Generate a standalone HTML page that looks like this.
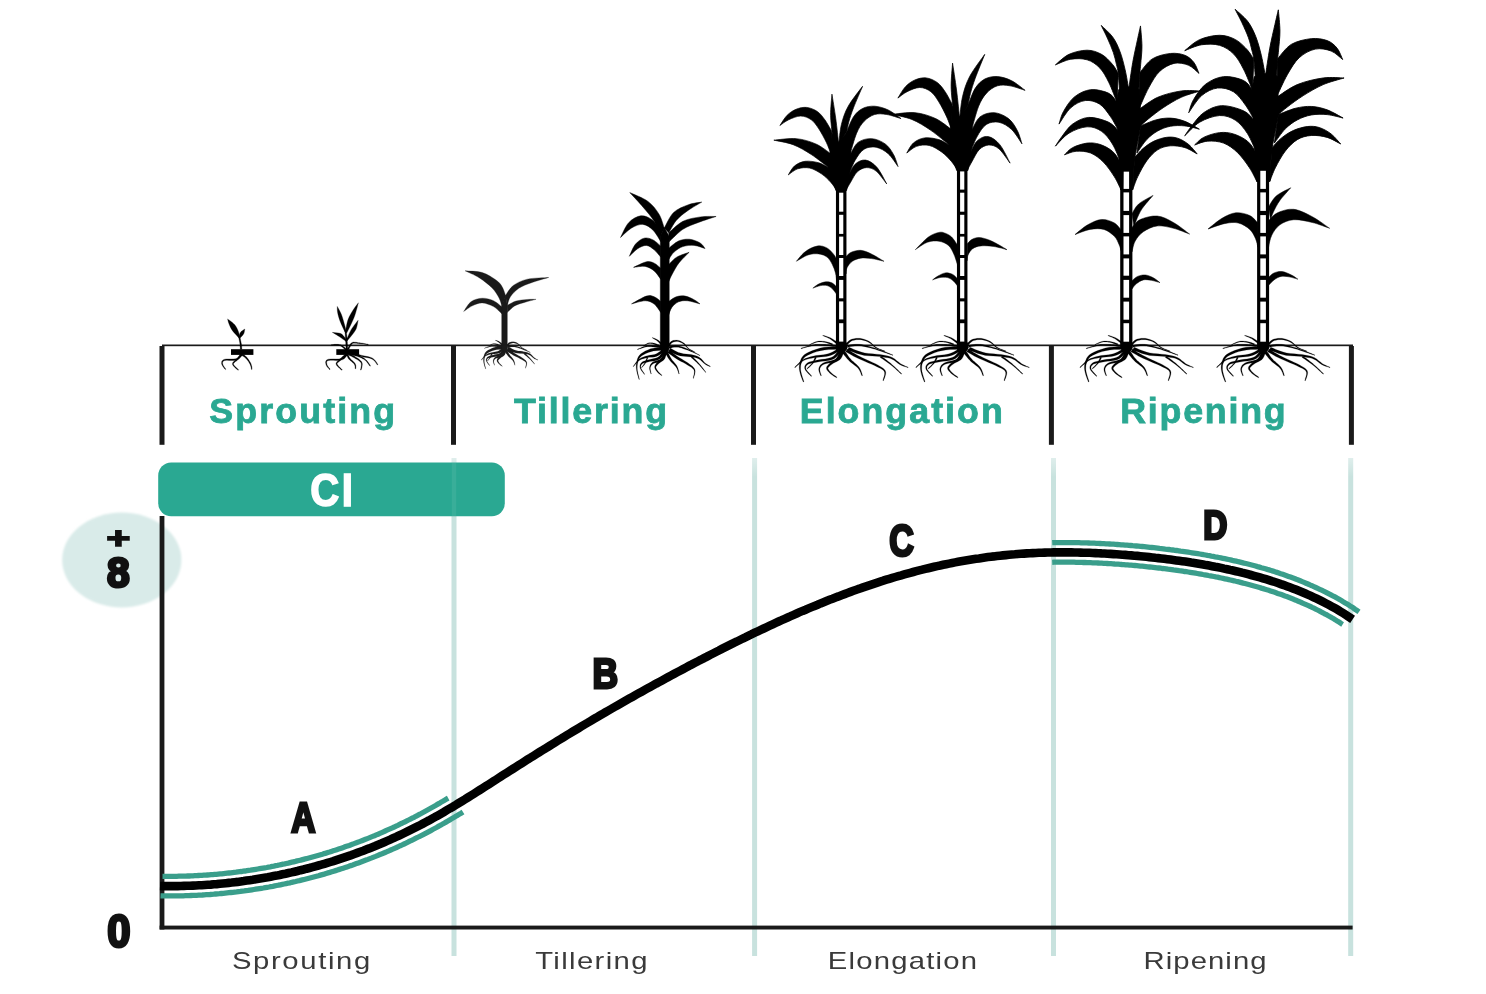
<!DOCTYPE html>
<html lang="en"><head><meta charset="utf-8"><title>Sugarcane growth stages</title>
<style>html,body{margin:0;padding:0;background:#fff;overflow:hidden}svg{display:block;will-change:transform}text{font-family:'Liberation Sans', sans-serif}</style>
</head><body>
<svg width="1486" height="994" viewBox="0 0 1486 994">
<defs>
<linearGradient id="vfade" x1="0" y1="0" x2="0" y2="1"><stop offset="0" stop-color="#fff" stop-opacity="0.45"/><stop offset="1" stop-color="#fff" stop-opacity="0"/></linearGradient>
<filter id="soft" x="-200%" width="500%" y="-5%" height="110%"><feGaussianBlur stdDeviation="0.7 0"/></filter>
<filter id="soft2" x="-10%" width="120%" y="-10%" height="120%"><feGaussianBlur stdDeviation="0.8"/></filter>
</defs>
<rect width="1486" height="994" fill="#fff"/>
<g id="chart">
<ellipse cx="121.8" cy="560" rx="59.6" ry="47.4" fill="#d9ebe9" filter="url(#soft2)"/>
<rect x="451.5" y="458" width="5" height="498" fill="#c8e2de" filter="url(#soft)"/>
<rect x="448.0" y="457" width="12" height="20" fill="url(#vfade)"/>
<rect x="752.1" y="458" width="5" height="498" fill="#c8e2de" filter="url(#soft)"/>
<rect x="748.6" y="457" width="12" height="20" fill="url(#vfade)"/>
<rect x="1051.0" y="458" width="5" height="498" fill="#c8e2de" filter="url(#soft)"/>
<rect x="1047.5" y="457" width="12" height="20" fill="url(#vfade)"/>
<rect x="1348.2" y="458" width="5" height="498" fill="#c8e2de" filter="url(#soft)"/>
<rect x="1344.7" y="457" width="12" height="20" fill="url(#vfade)"/>
<rect x="158.2" y="462.5" width="346.6" height="53.7" rx="13" ry="13" fill="#2aa892"/>
<rect x="451.8" y="462.5" width="4.4" height="53.7" fill="#fff" opacity="0.07"/>
<text transform="translate(310.19 505.54) scale(0.8756 1)" font-size="45.92" font-weight="bold" fill="#fff" letter-spacing="3.00" stroke="#fff" stroke-width="1.6" stroke-linejoin="miter">CI</text>
<rect x="159.6" y="516" width="4.8" height="413.5" fill="#1a1a1a"/>
<rect x="159.6" y="925.6" width="1193" height="3.9" fill="#1a1a1a"/>
<g fill="none" stroke="#3a9e8b" stroke-width="5.3">
<path d="M162.5 876.3 L164.3 876.3 L166.1 876.3 L167.9 876.3 L169.7 876.3 L171.5 876.3 L173.3 876.3 L175.1 876.3 L176.9 876.3 L178.7 876.2 L180.5 876.2 L182.2 876.2 L184.0 876.1 L185.8 876.1 L187.6 876.0 L189.4 876.0 L191.2 875.9 L193.0 875.8 L194.8 875.7 L196.6 875.6 L198.4 875.5 L200.2 875.4 L202.0 875.3 L203.8 875.2 L205.6 875.1 L207.4 875.0 L209.2 874.9 L211.0 874.7 L212.8 874.6 L214.6 874.4 L216.4 874.3 L218.2 874.1 L220.0 873.9 L221.8 873.8 L223.6 873.6 L225.4 873.4 L227.2 873.2 L229.0 873.0 L230.8 872.8 L232.6 872.6 L234.3 872.4 L236.1 872.2 L237.9 871.9 L239.7 871.7 L241.5 871.5 L243.3 871.2 L245.1 871.0 L246.9 870.7 L248.7 870.4 L250.5 870.2 L252.3 869.9 L254.1 869.6 L255.9 869.3 L257.7 869.0 L259.5 868.7 L261.3 868.4 L263.1 868.1 L264.9 867.8 L266.7 867.5 L268.5 867.1 L270.3 866.8 L272.1 866.4 L273.9 866.1 L275.7 865.7 L277.5 865.4 L279.3 865.0 L281.1 864.6 L282.9 864.2 L284.7 863.9 L286.5 863.5 L288.3 863.1 L290.1 862.6 L291.9 862.2 L293.6 861.8 L295.4 861.4 L297.2 860.9 L299.0 860.5 L300.8 860.1 L302.6 859.6 L304.4 859.1 L306.2 858.7 L308.0 858.2 L309.8 857.7 L311.6 857.2 L313.4 856.7 L315.2 856.2 L317.0 855.7 L318.8 855.2 L320.6 854.7 L322.4 854.2 L324.2 853.6 L326.0 853.1 L327.8 852.5 L329.6 852.0 L331.4 851.4 L333.2 850.8 L335.0 850.3 L336.8 849.7 L338.6 849.1 L340.4 848.5 L342.1 847.9 L343.9 847.3 L345.7 846.6 L347.5 846.0 L349.3 845.4 L351.1 844.7 L352.9 844.1 L354.7 843.4 L356.5 842.7 L358.3 842.1 L360.1 841.4 L361.9 840.7 L363.7 840.0 L365.5 839.3 L367.3 838.6 L369.1 837.9 L370.9 837.1 L372.7 836.4 L374.5 835.7 L376.3 834.9 L378.1 834.2 L379.9 833.4 L381.7 832.6 L383.4 831.8 L385.2 831.0 L387.0 830.2 L388.8 829.4 L390.6 828.6 L392.4 827.8 L394.2 827.0 L396.0 826.1 L397.8 825.3 L399.6 824.4 L401.4 823.5 L403.2 822.7 L405.0 821.8 L406.8 820.9 L408.6 820.0 L410.4 819.1 L412.2 818.2 L414.0 817.3 L415.8 816.3 L417.6 815.4 L419.4 814.4 L421.2 813.5 L423.0 812.5 L424.8 811.5 L426.6 810.5 L428.4 809.5 L430.2 808.5 L432.0 807.5 L433.8 806.5 L435.6 805.5 L437.4 804.4 L439.2 803.4 L441.0 802.3 L442.8 801.3 L444.6 800.2 L446.4 799.1 L448.2 798.1"/>
<path d="M160.5 895.8 L162.4 895.9 L164.3 895.9 L166.2 895.9 L168.1 895.9 L170.0 895.9 L171.9 895.9 L173.8 895.9 L175.7 895.9 L177.6 895.9 L179.5 895.8 L181.4 895.8 L183.4 895.8 L185.3 895.7 L187.2 895.6 L189.1 895.6 L191.0 895.5 L192.9 895.4 L194.8 895.4 L196.7 895.3 L198.6 895.2 L200.5 895.1 L202.4 895.0 L204.3 894.8 L206.2 894.7 L208.1 894.6 L210.0 894.5 L211.9 894.3 L213.8 894.2 L215.7 894.0 L217.6 893.8 L219.5 893.7 L221.4 893.5 L223.3 893.3 L225.2 893.1 L227.1 892.9 L229.0 892.7 L230.9 892.5 L232.8 892.3 L234.7 892.1 L236.6 891.9 L238.5 891.6 L240.4 891.4 L242.3 891.1 L244.2 890.9 L246.1 890.6 L248.1 890.4 L250.0 890.1 L251.9 889.8 L253.8 889.5 L255.7 889.2 L257.6 888.9 L259.5 888.6 L261.4 888.3 L263.3 888.0 L265.2 887.6 L267.1 887.3 L269.0 887.0 L270.9 886.6 L272.8 886.3 L274.7 885.9 L276.6 885.5 L278.5 885.2 L280.4 884.8 L282.3 884.4 L284.2 884.0 L286.1 883.6 L288.0 883.2 L289.9 882.8 L291.8 882.3 L293.7 881.9 L295.6 881.5 L297.5 881.0 L299.4 880.6 L301.3 880.1 L303.2 879.7 L305.1 879.2 L307.0 878.7 L308.9 878.2 L310.8 877.7 L312.7 877.2 L314.6 876.7 L316.5 876.2 L318.5 875.7 L320.4 875.1 L322.3 874.6 L324.2 874.1 L326.1 873.5 L328.0 872.9 L329.9 872.4 L331.8 871.8 L333.7 871.2 L335.6 870.6 L337.5 870.0 L339.4 869.4 L341.3 868.8 L343.2 868.2 L345.1 867.6 L347.0 866.9 L348.9 866.3 L350.8 865.6 L352.7 865.0 L354.6 864.3 L356.5 863.6 L358.4 862.9 L360.3 862.2 L362.2 861.5 L364.1 860.8 L366.0 860.1 L367.9 859.4 L369.8 858.6 L371.8 857.9 L373.7 857.1 L375.6 856.4 L377.5 855.6 L379.4 854.8 L381.3 854.1 L383.2 853.3 L385.1 852.5 L387.0 851.7 L388.9 850.8 L390.8 850.0 L392.7 849.2 L394.6 848.3 L396.5 847.5 L398.4 846.6 L400.3 845.7 L402.2 844.9 L404.1 844.0 L406.0 843.1 L407.9 842.2 L409.8 841.2 L411.7 840.3 L413.6 839.4 L415.5 838.4 L417.4 837.5 L419.3 836.5 L421.2 835.6 L423.2 834.6 L425.1 833.6 L427.0 832.6 L428.9 831.6 L430.8 830.6 L432.7 829.5 L434.6 828.5 L436.5 827.5 L438.4 826.4 L440.3 825.3 L442.2 824.3 L444.1 823.2 L446.0 822.1 L447.9 821.0 L449.8 819.9 L451.6 818.8 L453.5 817.7 L455.4 816.6 L457.3 815.4 L459.2 814.3 L461.1 813.2 L463.0 812.0"/>
<path d="M1052.2 542.7 L1054.1 542.6 L1056.0 542.6 L1058.0 542.6 L1059.9 542.6 L1061.8 542.6 L1063.7 542.6 L1065.7 542.6 L1067.6 542.6 L1069.5 542.6 L1071.4 542.6 L1073.3 542.6 L1075.2 542.7 L1077.2 542.7 L1079.1 542.7 L1081.0 542.8 L1082.9 542.8 L1084.8 542.9 L1086.8 542.9 L1088.7 543.0 L1090.6 543.1 L1092.5 543.2 L1094.4 543.2 L1096.3 543.3 L1098.3 543.4 L1100.2 543.5 L1102.1 543.6 L1104.0 543.7 L1105.9 543.8 L1107.8 543.9 L1109.7 544.0 L1111.7 544.1 L1113.6 544.2 L1115.5 544.4 L1117.4 544.5 L1119.3 544.6 L1121.2 544.8 L1123.1 544.9 L1125.1 545.1 L1127.0 545.2 L1128.9 545.4 L1130.8 545.5 L1132.7 545.7 L1134.6 545.8 L1136.5 546.0 L1138.5 546.2 L1140.4 546.4 L1142.3 546.5 L1144.2 546.7 L1146.1 546.9 L1148.0 547.1 L1149.9 547.3 L1151.8 547.5 L1153.8 547.7 L1155.7 547.9 L1157.6 548.1 L1159.5 548.4 L1161.4 548.6 L1163.3 548.8 L1165.3 549.1 L1167.2 549.3 L1169.1 549.5 L1171.0 549.8 L1172.9 550.0 L1174.8 550.3 L1176.7 550.5 L1178.7 550.8 L1180.6 551.1 L1182.5 551.3 L1184.4 551.6 L1186.3 551.9 L1188.2 552.2 L1190.2 552.5 L1192.1 552.8 L1194.0 553.1 L1195.9 553.4 L1197.8 553.7 L1199.8 554.0 L1201.7 554.3 L1203.6 554.7 L1205.5 555.0 L1207.4 555.4 L1209.4 555.7 L1211.3 556.1 L1213.2 556.4 L1215.1 556.8 L1217.0 557.1 L1219.0 557.5 L1220.9 557.9 L1222.8 558.3 L1224.7 558.7 L1226.7 559.1 L1228.6 559.5 L1230.5 559.9 L1232.4 560.4 L1234.4 560.8 L1236.3 561.2 L1238.2 561.7 L1240.2 562.1 L1242.1 562.6 L1244.0 563.1 L1245.9 563.5 L1247.9 564.0 L1249.8 564.5 L1251.7 565.0 L1253.7 565.5 L1255.6 566.0 L1257.5 566.6 L1259.5 567.1 L1261.4 567.7 L1263.3 568.2 L1265.3 568.8 L1267.2 569.4 L1269.1 569.9 L1271.1 570.5 L1273.0 571.1 L1275.0 571.8 L1276.9 572.4 L1278.8 573.0 L1280.8 573.7 L1282.7 574.3 L1284.7 575.0 L1286.6 575.7 L1288.5 576.4 L1290.5 577.1 L1292.4 577.8 L1294.4 578.5 L1296.3 579.3 L1298.3 580.0 L1300.2 580.8 L1302.2 581.6 L1304.1 582.4 L1306.0 583.2 L1308.0 584.0 L1309.9 584.9 L1311.9 585.7 L1313.8 586.6 L1315.8 587.5 L1317.7 588.4 L1319.7 589.3 L1321.6 590.2 L1323.6 591.2 L1325.6 592.1 L1327.5 593.1 L1329.5 594.1 L1331.4 595.1 L1333.4 596.2 L1335.4 597.2 L1337.3 598.3 L1339.3 599.4 L1341.3 600.5 L1343.2 601.7 L1345.2 602.9 L1347.2 604.1 L1349.1 605.3 L1351.1 606.6 L1353.1 607.8 L1355.0 609.2 L1357.0 610.5 L1359.0 611.9"/>
<path d="M1052.2 562.3 L1054.0 562.2 L1055.9 562.2 L1057.7 562.2 L1059.5 562.2 L1061.4 562.2 L1063.2 562.2 L1065.0 562.2 L1066.9 562.2 L1068.7 562.2 L1070.5 562.2 L1072.4 562.2 L1074.2 562.2 L1076.0 562.3 L1077.9 562.3 L1079.7 562.4 L1081.6 562.4 L1083.4 562.5 L1085.2 562.5 L1087.1 562.6 L1088.9 562.6 L1090.7 562.7 L1092.6 562.8 L1094.4 562.8 L1096.3 562.9 L1098.1 563.0 L1099.9 563.1 L1101.8 563.2 L1103.6 563.3 L1105.5 563.4 L1107.3 563.5 L1109.1 563.6 L1111.0 563.7 L1112.8 563.8 L1114.7 564.0 L1116.5 564.1 L1118.3 564.2 L1120.2 564.3 L1122.0 564.5 L1123.9 564.6 L1125.7 564.8 L1127.6 564.9 L1129.4 565.1 L1131.2 565.2 L1133.1 565.4 L1134.9 565.5 L1136.8 565.7 L1138.6 565.9 L1140.4 566.1 L1142.3 566.2 L1144.1 566.4 L1146.0 566.6 L1147.8 566.8 L1149.6 567.0 L1151.5 567.2 L1153.3 567.4 L1155.2 567.6 L1157.0 567.8 L1158.8 568.0 L1160.7 568.2 L1162.5 568.5 L1164.4 568.7 L1166.2 568.9 L1168.0 569.2 L1169.9 569.4 L1171.7 569.6 L1173.6 569.9 L1175.4 570.1 L1177.2 570.4 L1179.1 570.7 L1180.9 570.9 L1182.8 571.2 L1184.6 571.5 L1186.4 571.7 L1188.3 572.0 L1190.1 572.3 L1191.9 572.6 L1193.8 572.9 L1195.6 573.2 L1197.4 573.5 L1199.3 573.8 L1201.1 574.1 L1203.0 574.5 L1204.8 574.8 L1206.6 575.1 L1208.5 575.5 L1210.3 575.8 L1212.1 576.2 L1214.0 576.5 L1215.8 576.9 L1217.6 577.2 L1219.4 577.6 L1221.3 578.0 L1223.1 578.4 L1224.9 578.8 L1226.8 579.2 L1228.6 579.6 L1230.4 580.0 L1232.2 580.4 L1234.1 580.8 L1235.9 581.3 L1237.7 581.7 L1239.6 582.1 L1241.4 582.6 L1243.2 583.1 L1245.0 583.5 L1246.8 584.0 L1248.7 584.5 L1250.5 585.0 L1252.3 585.5 L1254.1 586.0 L1256.0 586.5 L1257.8 587.0 L1259.6 587.5 L1261.4 588.1 L1263.2 588.6 L1265.1 589.2 L1266.9 589.8 L1268.7 590.3 L1270.5 590.9 L1272.3 591.5 L1274.1 592.1 L1276.0 592.7 L1277.8 593.4 L1279.6 594.0 L1281.4 594.6 L1283.2 595.3 L1285.0 596.0 L1286.8 596.6 L1288.6 597.3 L1290.5 598.0 L1292.3 598.7 L1294.1 599.5 L1295.9 600.2 L1297.7 601.0 L1299.5 601.7 L1301.3 602.5 L1303.1 603.3 L1304.9 604.1 L1306.7 604.9 L1308.5 605.7 L1310.3 606.5 L1312.1 607.4 L1313.9 608.2 L1315.7 609.1 L1317.5 610.0 L1319.3 610.9 L1321.1 611.9 L1322.9 612.8 L1324.7 613.8 L1326.5 614.7 L1328.3 615.7 L1330.1 616.7 L1331.9 617.8 L1333.7 618.8 L1335.5 619.9 L1337.2 621.0 L1339.0 622.1 L1340.8 623.3 L1342.6 624.4"/>
</g>
<path d="M160.0 886.0 L163.0 886.1 L166.0 886.1 L169.0 886.1 L172.0 886.1 L174.9 886.1 L177.9 886.1 L180.9 886.0 L183.9 885.9 L186.9 885.8 L189.9 885.7 L192.9 885.6 L195.9 885.5 L198.9 885.3 L201.8 885.2 L204.8 885.0 L207.8 884.8 L210.8 884.6 L213.8 884.3 L216.8 884.1 L219.8 883.8 L222.8 883.5 L225.8 883.2 L228.7 882.9 L231.7 882.6 L234.7 882.2 L237.7 881.9 L240.7 881.5 L243.7 881.1 L246.7 880.6 L249.7 880.2 L252.7 879.8 L255.6 879.3 L258.6 878.8 L261.6 878.3 L264.6 877.8 L267.6 877.3 L270.6 876.7 L273.6 876.1 L276.6 875.6 L279.6 875.0 L282.5 874.3 L285.5 873.7 L288.5 873.0 L291.5 872.4 L294.5 871.7 L297.5 871.0 L300.5 870.2 L303.5 869.5 L306.5 868.7 L309.4 868.0 L312.4 867.2 L315.4 866.3 L318.4 865.5 L321.4 864.7 L324.4 863.8 L327.4 862.9 L330.4 862.0 L333.4 861.1 L336.3 860.1 L339.3 859.1 L342.3 858.1 L345.3 857.1 L348.3 856.1 L351.3 855.1 L354.3 854.0 L357.3 852.9 L360.3 851.8 L363.3 850.7 L366.2 849.5 L369.2 848.4 L372.2 847.2 L375.2 846.0 L378.2 844.7 L381.2 843.5 L384.2 842.2 L387.2 840.9 L390.2 839.6 L393.1 838.2 L396.1 836.9 L399.1 835.5 L402.1 834.1 L405.1 832.7 L408.1 831.2 L411.1 829.7 L414.1 828.2 L417.1 826.7 L420.0 825.2 L423.0 823.6 L426.0 822.0 L429.0 820.4 L432.0 818.7 L435.0 817.1 L438.0 815.4 L441.0 813.7 L444.0 812.0 L446.9 810.2 L449.9 808.4 L452.9 806.7 L455.9 804.9 L458.9 803.0 L461.9 801.2 L464.9 799.4 L467.9 797.5 L470.9 795.6 L473.8 793.8 L476.8 791.9 L479.8 790.0 L482.8 788.1 L485.8 786.2 L488.8 784.3 L491.8 782.4 L494.8 780.5 L497.8 778.5 L500.7 776.6 L503.7 774.7 L506.7 772.8 L509.7 770.9 L512.7 769.0 L515.7 767.1 L518.7 765.2 L521.7 763.3 L524.7 761.4 L527.6 759.5 L530.6 757.7 L533.6 755.8 L536.6 753.9 L539.6 752.0 L542.6 750.2 L545.6 748.3 L548.6 746.5 L551.6 744.6 L554.5 742.8 L557.5 740.9 L560.5 739.1 L563.5 737.3 L566.5 735.4 L569.5 733.6 L572.5 731.8 L575.5 730.0 L578.5 728.2 L581.4 726.4 L584.4 724.6 L587.4 722.9 L590.4 721.1 L593.4 719.3 L596.4 717.6 L599.4 715.8 L602.4 714.1 L605.4 712.3 L608.3 710.6 L611.3 708.9 L614.3 707.1 L617.3 705.4 L620.3 703.7 L623.3 702.0 L626.3 700.3 L629.3 698.6 L632.3 696.9 L635.2 695.2 L638.2 693.6 L641.2 691.9 L644.2 690.2 L647.2 688.6 L650.2 686.9 L653.2 685.3 L656.2 683.6 L659.2 682.0 L662.1 680.4 L665.1 678.7 L668.1 677.1 L671.1 675.5 L674.1 673.9 L677.1 672.3 L680.1 670.7 L683.1 669.1 L686.1 667.5 L689.0 665.9 L692.0 664.4 L695.0 662.8 L698.0 661.2 L701.0 659.7 L704.0 658.1 L707.0 656.6 L710.0 655.0 L713.0 653.5 L715.9 652.0 L718.9 650.5 L721.9 648.9 L724.9 647.4 L727.9 645.9 L730.9 644.4 L733.9 642.9 L736.9 641.5 L739.9 640.0 L742.8 638.5 L745.8 637.1 L748.8 635.6 L751.8 634.2 L754.8 632.7 L757.8 631.3 L760.8 629.9 L763.8 628.5 L766.8 627.1 L769.8 625.7 L772.7 624.3 L775.7 622.9 L778.7 621.5 L781.7 620.2 L784.7 618.8 L787.7 617.5 L790.7 616.2 L793.7 614.8 L796.7 613.5 L799.6 612.2 L802.6 610.9 L805.6 609.7 L808.6 608.4 L811.6 607.1 L814.6 605.9 L817.6 604.7 L820.6 603.4 L823.6 602.2 L826.5 601.0 L829.5 599.8 L832.5 598.7 L835.5 597.5 L838.5 596.4 L841.5 595.2 L844.5 594.1 L847.5 593.0 L850.5 591.9 L853.4 590.8 L856.4 589.7 L859.4 588.7 L862.4 587.6 L865.4 586.6 L868.4 585.6 L871.4 584.6 L874.4 583.6 L877.4 582.6 L880.3 581.6 L883.3 580.7 L886.3 579.7 L889.3 578.8 L892.3 577.9 L895.3 577.0 L898.3 576.1 L901.3 575.3 L904.3 574.4 L907.2 573.6 L910.2 572.8 L913.2 572.0 L916.2 571.2 L919.2 570.4 L922.2 569.7 L925.2 568.9 L928.2 568.2 L931.2 567.5 L934.1 566.8 L937.1 566.1 L940.1 565.5 L943.1 564.8 L946.1 564.2 L949.1 563.6 L952.1 563.0 L955.1 562.4 L958.1 561.8 L961.0 561.3 L964.0 560.8 L967.0 560.3 L970.0 559.8 L973.0 559.3 L976.0 558.8 L979.0 558.4 L982.0 557.9 L985.0 557.5 L987.9 557.1 L990.9 556.7 L993.9 556.4 L996.9 556.0 L999.9 555.7 L1002.9 555.4 L1005.9 555.1 L1008.9 554.8 L1011.9 554.5 L1014.8 554.3 L1017.8 554.0 L1020.8 553.8 L1023.8 553.6 L1026.8 553.4 L1029.8 553.3 L1032.8 553.1 L1035.8 553.0 L1038.8 552.8 L1041.7 552.7 L1044.7 552.6 L1047.7 552.5 L1050.7 552.5 L1053.7 552.4 L1056.7 552.4 L1059.7 552.4 L1062.7 552.4 L1065.7 552.4 L1068.6 552.4 L1071.6 552.4 L1074.6 552.5 L1077.6 552.5 L1080.6 552.6 L1083.6 552.7 L1086.6 552.7 L1089.6 552.8 L1092.6 553.0 L1095.5 553.1 L1098.5 553.2 L1101.5 553.4 L1104.5 553.5 L1107.5 553.7 L1110.5 553.9 L1113.5 554.1 L1116.5 554.3 L1119.5 554.5 L1122.4 554.7 L1125.4 554.9 L1128.4 555.2 L1131.4 555.4 L1134.4 555.7 L1137.4 555.9 L1140.4 556.2 L1143.4 556.5 L1146.4 556.8 L1149.3 557.1 L1152.3 557.4 L1155.3 557.8 L1158.3 558.1 L1161.3 558.4 L1164.3 558.8 L1167.3 559.2 L1170.3 559.6 L1173.3 560.0 L1176.3 560.4 L1179.2 560.8 L1182.2 561.2 L1185.2 561.6 L1188.2 562.1 L1191.2 562.6 L1194.2 563.0 L1197.2 563.5 L1200.2 564.0 L1203.2 564.5 L1206.1 565.1 L1209.1 565.6 L1212.1 566.2 L1215.1 566.8 L1218.1 567.3 L1221.1 567.9 L1224.1 568.6 L1227.1 569.2 L1230.1 569.9 L1233.0 570.5 L1236.0 571.2 L1239.0 571.9 L1242.0 572.7 L1245.0 573.4 L1248.0 574.2 L1251.0 575.0 L1254.0 575.8 L1257.0 576.6 L1259.9 577.4 L1262.9 578.3 L1265.9 579.2 L1268.9 580.1 L1271.9 581.1 L1274.9 582.0 L1277.9 583.0 L1280.9 584.1 L1283.9 585.1 L1286.8 586.2 L1289.8 587.3 L1292.8 588.4 L1295.8 589.6 L1298.8 590.8 L1301.8 592.0 L1304.8 593.3 L1307.8 594.6 L1310.8 595.9 L1313.7 597.3 L1316.7 598.7 L1319.7 600.2 L1322.7 601.7 L1325.7 603.2 L1328.7 604.8 L1331.7 606.4 L1334.7 608.1 L1337.7 609.8 L1340.6 611.6 L1343.6 613.4 L1346.6 615.3 L1349.6 617.3 L1352.6 619.3" fill="none" stroke="#000" stroke-width="8.6"/>
<text transform="translate(106.57 548.32) scale(1.4057 1)" font-size="29.02" font-weight="bold" fill="#111" stroke="#111" stroke-width="1.6" stroke-linejoin="miter">+</text>
<text transform="translate(107.08 587.07) scale(0.9528 1)" font-size="42.82" font-weight="bold" fill="#111" stroke="#111" stroke-width="3.0" stroke-linejoin="miter">8</text>
<text transform="translate(107.34 947.24) scale(0.9115 1)" font-size="45.92" font-weight="bold" fill="#111" stroke="#111" stroke-width="3.0" stroke-linejoin="miter">0</text>
<text transform="translate(291.23 831.69) scale(0.7981 1)" font-size="42.01" font-weight="bold" fill="#111" stroke="#111" stroke-width="3.0" stroke-linejoin="miter">A</text>
<text transform="translate(592.40 687.80) scale(0.8236 1)" font-size="43.04" font-weight="bold" fill="#111" stroke="#111" stroke-width="3.0" stroke-linejoin="miter">B</text>
<text transform="translate(889.14 555.66) scale(0.7798 1)" font-size="43.66" font-weight="bold" fill="#111" stroke="#111" stroke-width="3.0" stroke-linejoin="miter">C</text>
<text transform="translate(1203.13 539.00) scale(0.8199 1)" font-size="40.72" font-weight="bold" fill="#111" stroke="#111" stroke-width="3.0" stroke-linejoin="miter">D</text>
<text transform="translate(231.88 968.60) scale(1.2300 1)" font-size="23.8" font-weight="normal" fill="#3a3a3a" letter-spacing="1.34">Sprouting</text>
<text transform="translate(535.21 968.60) scale(1.2300 1)" font-size="23.8" font-weight="normal" fill="#3a3a3a" letter-spacing="1.11">Tillering</text>
<text transform="translate(827.66 968.60) scale(1.2300 1)" font-size="23.8" font-weight="normal" fill="#3a3a3a" letter-spacing="1.01">Elongation</text>
<text transform="translate(1143.56 968.60) scale(1.2300 1)" font-size="23.8" font-weight="normal" fill="#3a3a3a" letter-spacing="0.87">Ripening</text>
</g>
<g id="stages">
<rect x="162" y="344.5" width="1191" height="1.7" fill="#1a1a1a"/>
<rect x="159.5" y="346" width="5" height="98.8" fill="#1a1a1a"/>
<rect x="451.0" y="346" width="5" height="98.8" fill="#1a1a1a"/>
<rect x="751.0" y="346" width="5" height="98.8" fill="#1a1a1a"/>
<rect x="1048.9" y="346" width="5" height="98.8" fill="#1a1a1a"/>
<rect x="1348.9" y="346" width="5" height="98.8" fill="#1a1a1a"/>
<text transform="translate(209.21 423.10) scale(1.0400 1)" font-size="34.4" font-weight="bold" fill="#2aa892" letter-spacing="2.05" stroke="#2aa892" stroke-width="0.8" stroke-linejoin="miter">Sprouting</text>
<text transform="translate(514.04 423.10) scale(1.0400 1)" font-size="34.4" font-weight="bold" fill="#2aa892" letter-spacing="1.75" stroke="#2aa892" stroke-width="0.8" stroke-linejoin="miter">Tillering</text>
<text transform="translate(799.77 423.10) scale(1.0400 1)" font-size="34.4" font-weight="bold" fill="#2aa892" letter-spacing="1.95" stroke="#2aa892" stroke-width="0.8" stroke-linejoin="miter">Elongation</text>
<text transform="translate(1120.27 423.10) scale(1.0400 1)" font-size="34.4" font-weight="bold" fill="#2aa892" letter-spacing="1.71" stroke="#2aa892" stroke-width="0.8" stroke-linejoin="miter">Ripening</text>
</g>
<g id="plants" fill="#000" stroke="#000" stroke-width="2.2" stroke-linejoin="round">
<rect x="231" y="349.2" width="22.4" height="5.7" stroke="none"/><rect x="336.3" y="349.2" width="22.8" height="5.7" stroke="none"/>
<g transform="translate(200.00 290.00) scale(0.13459 0.13459)"><path d="M288.0 354.0C280.0 345.0 252.2 317.3 240.0 300.0C227.8 282.7 220.8 264.2 215.0 250.0C209.2 235.8 206.7 220.8 205.0 215.0C213.3 221.7 242.2 240.8 255.0 255.0C267.8 269.2 275.0 283.8 282.0 300.0C289.0 316.2 294.5 343.3 297.0 352.0Z"/><path d="M288.0 352.0C290.0 345.8 292.5 325.3 300.0 315.0C307.5 304.7 327.5 294.2 333.0 290.0C331.7 295.8 330.8 313.8 325.0 325.0C319.2 336.2 302.5 351.7 298.0 357.0Z"/><path d="M311 440L311 438L311 435L310 432L310 429L310 426L310 422L310 418L309 414L309 410L308 405L308 401L307 397L306 393L305 388L304 383L303 378L302 373L301 368L300 363L299 359L298 355L297 352L297 349L287 351L288 354L288 357L289 361L290 365L291 370L292 375L293 380L294 385L295 390L296 395L296 399L297 403L297 407L298 411L298 415L298 419L298 423L299 426L299 430L299 433L299 436L299 438L299 440Z"/><path d="M305 476L301 480L296 487L290 494L284 501L275 507L266 510L252 512L235 513L217 513L199 513L185 514L174 518L167 523L162 529L161 536L160 542L161 549L163 556L168 564L173 573L179 580L184 587L188 591L192 589L189 584L184 577L178 569L173 561L170 554L168 548L168 542L168 537L170 533L173 529L178 526L186 523L200 522L217 523L235 523L253 523L268 521L281 517L291 510L299 502L306 495L311 488L315 484Z"/><path d="M300 476L298 479L296 482L293 486L289 491L286 496L282 501L279 505L275 510L270 514L265 519L259 524L253 529L247 535L243 541L241 548L242 555L247 562L252 569L259 576L267 583L274 588L279 593L283 597L287 593L283 589L277 584L271 578L264 571L257 565L252 558L249 553L249 549L250 545L254 540L259 536L264 531L271 527L277 522L282 517L287 512L291 507L295 503L299 498L302 494L305 490L308 486L310 484Z"/><path d="M308 485L311 487L315 489L319 492L324 495L329 498L334 502L338 506L343 510L347 515L351 520L356 526L360 532L364 538L367 544L371 550L373 555L375 561L377 567L379 572L380 578L381 583L382 587L383 591L387 589L387 586L386 582L386 577L385 571L384 565L382 559L380 552L378 546L375 540L371 534L367 527L363 521L359 515L355 509L350 503L346 498L341 494L336 489L331 485L326 482L322 479L318 477L316 475Z"/><path d="M1078.0 314.0C1071.7 300.0 1049.3 254.8 1040.0 230.0C1030.7 205.2 1025.3 183.0 1022.0 165.0C1018.7 147.0 1020.3 129.2 1020.0 122.0C1025.0 131.7 1041.3 158.7 1050.0 180.0C1058.7 201.3 1065.7 228.0 1072.0 250.0C1078.3 272.0 1085.3 301.7 1088.0 312.0Z"/><path d="M1080.0 314.0C1083.3 298.3 1090.0 248.2 1100.0 220.0C1110.0 191.8 1127.2 165.8 1140.0 145.0C1152.8 124.2 1170.8 103.3 1177.0 95.0C1172.5 110.8 1160.3 160.8 1150.0 190.0C1139.7 219.2 1124.7 248.8 1115.0 270.0C1105.3 291.2 1095.8 309.2 1092.0 317.0Z"/><path d="M1086.0 374.0C1091.7 361.7 1108.5 320.7 1120.0 300.0C1131.5 279.3 1145.8 262.5 1155.0 250.0C1164.2 237.5 1171.7 229.2 1175.0 225.0C1172.5 235.8 1168.3 270.8 1160.0 290.0C1151.7 309.2 1136.3 325.0 1125.0 340.0C1113.7 355.0 1097.5 373.3 1092.0 380.0Z"/><path d="M1082.0 380.0C1075.0 375.0 1052.0 358.3 1040.0 350.0C1028.0 341.7 1019.5 335.8 1010.0 330.0C1000.5 324.2 987.5 317.5 983.0 315.0C992.5 316.2 1025.5 317.0 1040.0 322.0C1054.5 327.0 1061.7 336.3 1070.0 345.0C1078.3 353.7 1086.7 369.2 1090.0 374.0Z"/><path d="M1098 445L1098 441L1098 437L1098 433L1097 427L1097 422L1097 416L1096 409L1096 403L1095 396L1095 389L1094 383L1094 376L1093 369L1093 362L1092 354L1091 346L1091 338L1090 330L1089 322L1089 315L1088 309L1088 304L1087 300L1077 300L1077 305L1077 310L1078 316L1078 323L1079 330L1079 338L1080 346L1080 355L1081 363L1081 370L1082 377L1082 384L1083 390L1083 397L1083 403L1084 410L1084 416L1084 422L1085 428L1085 433L1085 438L1085 442L1086 445Z"/><path d="M1088 438L1086 436L1084 434L1080 431L1077 428L1073 425L1068 422L1064 418L1059 415L1054 412L1049 409L1044 407L1038 406L1033 405L1026 404L1020 404L1013 404L1006 404L1000 404L993 405L988 405L983 406L978 406L975 406L975 410L978 410L983 410L988 410L994 410L1000 410L1006 410L1013 410L1019 410L1026 411L1031 412L1037 413L1041 414L1045 416L1050 419L1054 422L1058 425L1063 429L1067 432L1070 436L1074 439L1077 442L1079 444L1082 446Z"/><path d="M1105 443L1107 439L1110 433L1113 426L1117 419L1121 412L1125 406L1129 401L1134 398L1138 396L1143 395L1149 395L1155 396L1162 396L1169 397L1177 398L1185 399L1195 400L1205 401L1216 402L1226 404L1236 405L1244 406L1250 407L1250 403L1245 402L1237 401L1227 399L1217 397L1206 395L1196 394L1186 392L1178 392L1170 391L1163 389L1156 388L1149 388L1143 387L1136 388L1130 390L1124 394L1118 400L1113 406L1108 414L1104 421L1101 428L1098 433L1095 437Z"/><path d="M1085 476L1081 480L1077 487L1071 494L1064 501L1056 507L1046 510L1030 512L1011 513L990 512L971 513L955 514L944 518L937 524L934 532L933 540L935 548L936 554L939 561L943 569L949 576L955 582L960 588L963 592L967 588L964 584L959 579L954 572L948 565L945 558L943 553L942 546L941 540L941 534L944 530L948 526L956 523L971 522L990 522L1011 523L1031 523L1048 521L1061 517L1072 510L1080 502L1086 495L1091 488L1095 484Z"/><path d="M1081 475L1077 479L1072 483L1066 489L1059 495L1052 501L1046 507L1040 513L1035 518L1031 522L1026 526L1021 529L1017 533L1014 538L1011 543L1011 549L1013 555L1017 562L1023 569L1030 575L1037 582L1044 588L1049 593L1053 597L1057 593L1053 589L1048 584L1041 578L1035 571L1028 564L1023 558L1020 552L1019 548L1019 545L1021 542L1023 540L1027 536L1032 533L1037 529L1042 525L1047 521L1053 515L1060 509L1067 504L1074 498L1080 492L1085 488L1089 485Z"/><path d="M1089 483L1090 485L1091 488L1093 491L1095 496L1097 500L1100 505L1103 510L1107 515L1112 520L1118 525L1124 530L1131 536L1137 541L1142 546L1146 551L1148 555L1150 559L1151 564L1152 569L1152 574L1152 578L1152 582L1153 585L1157 585L1158 582L1158 579L1158 574L1158 569L1158 563L1157 558L1155 552L1152 546L1148 541L1143 535L1137 529L1131 524L1125 518L1119 513L1115 508L1112 504L1110 500L1107 495L1106 491L1104 487L1103 483L1102 480L1101 477Z"/><path d="M1107 486L1111 487L1115 489L1120 491L1125 493L1131 496L1137 499L1143 502L1149 506L1156 510L1164 514L1171 519L1179 524L1186 529L1191 535L1196 540L1198 545L1199 552L1199 560L1198 568L1196 576L1195 584L1193 590L1193 595L1197 595L1198 591L1200 585L1202 577L1204 569L1205 561L1206 552L1205 544L1202 536L1198 529L1191 523L1184 517L1177 511L1169 506L1161 501L1155 497L1149 493L1143 489L1136 486L1130 483L1125 480L1120 478L1116 476L1113 474Z"/><path d="M1129 484L1133 485L1138 486L1145 487L1152 489L1159 491L1167 493L1174 495L1180 497L1187 500L1194 503L1201 506L1207 510L1214 513L1220 517L1226 521L1231 526L1237 532L1242 538L1247 545L1252 552L1256 558L1260 563L1263 566L1267 564L1264 560L1261 554L1257 548L1252 541L1247 534L1242 527L1236 521L1230 516L1224 511L1218 506L1211 502L1205 498L1198 495L1191 492L1184 489L1177 486L1170 483L1162 480L1154 478L1147 476L1141 475L1135 473L1131 472Z"/><path d="M1149 484L1152 485L1157 486L1163 487L1170 488L1177 490L1185 492L1193 493L1202 495L1212 497L1223 499L1234 501L1245 503L1257 506L1267 509L1276 512L1283 516L1290 521L1296 528L1302 534L1307 541L1311 547L1315 553L1318 557L1322 553L1319 550L1316 544L1312 538L1307 531L1301 523L1294 516L1287 510L1279 505L1269 501L1259 498L1247 495L1236 493L1224 490L1214 488L1204 486L1196 484L1187 482L1180 480L1172 478L1166 476L1160 475L1155 473L1151 472Z"/></g>
<g fill="#1a1a1a" stroke="#1a1a1a">
<g transform="translate(440.00 250.00) scale(0.14085 0.14085)"><path d="M466.0 324.0C462.0 313.7 453.0 280.2 442.0 262.0C431.0 243.8 423.7 232.0 400.0 215.0C376.3 198.0 337.0 171.2 300.0 160.0C263.0 148.8 198.3 150.0 178.0 148.0C195.0 156.3 248.0 177.7 280.0 198.0C312.0 218.3 346.7 246.0 370.0 270.0C393.3 294.0 408.3 319.7 420.0 342.0C431.7 364.3 436.7 393.7 440.0 404.0Z"/><path d="M464.0 324.0C473.3 312.0 494.0 271.5 520.0 252.0C546.0 232.5 578.0 216.5 620.0 207.0C662.0 197.5 746.7 197.0 772.0 195.0C751.7 201.2 685.3 219.2 650.0 232.0C614.7 244.8 585.0 255.3 560.0 272.0C535.0 288.7 513.7 311.7 500.0 332.0C486.3 352.3 481.7 383.7 478.0 394.0Z"/><path d="M440.0 404.0C430.0 396.7 403.3 370.3 380.0 360.0C356.7 349.7 326.7 340.8 300.0 342.0C273.3 343.2 242.0 351.2 220.0 367.0C198.0 382.8 176.7 425.3 168.0 437.0C178.3 430.2 208.0 406.2 230.0 396.0C252.0 385.8 275.0 375.0 300.0 376.0C325.0 377.0 356.7 389.0 380.0 402.0C403.3 415.0 430.0 445.3 440.0 454.0Z"/><path d="M476.0 394.0C486.7 388.7 516.0 369.2 540.0 362.0C564.0 354.8 596.3 353.0 620.0 351.0C643.7 349.0 671.7 350.2 682.0 350.0C668.3 353.7 625.3 364.2 600.0 372.0C574.7 379.8 550.3 385.0 530.0 397.0C509.7 409.0 486.7 436.2 478.0 444.0Z"/><path d="M438.0 400.0L465.0 320.0L478.0 390.0L478.0 690.0L438.0 690.0Z"/></g>
<g transform="translate(504.50 347.30) scale(0.04374 0.05424) translate(-700 -250)"><path d="M689 230L657 233L611 235L557 239L504 245L457 255L412 268L369 284L329 302L295 320L270 338L252 358L240 379L232 399L225 419L220 441L217 463L217 487L219 511L224 538L234 570L246 603L258 632L266 651L274 649L268 628L259 599L249 566L242 535L239 509L239 487L241 466L245 447L252 429L260 411L269 395L279 380L294 367L315 354L346 340L384 326L426 313L468 303L511 296L561 292L613 290L659 290L691 290Z"/><path d="M682 224L672 223L660 223L645 222L629 221L611 220L592 220L573 219L555 219L535 218L515 217L494 216L472 216L450 216L428 217L406 219L384 222L361 227L336 234L312 241L290 248L269 255L252 261L239 265L241 271L254 268L272 264L292 258L316 252L340 247L364 242L387 238L408 236L429 235L450 236L471 237L493 239L513 241L534 243L553 245L571 246L590 248L608 250L626 253L642 255L657 257L669 259L678 260Z"/><path d="M605 209L598 207L590 204L579 201L568 197L555 193L543 189L530 186L518 185L506 183L495 182L482 181L470 180L458 180L445 181L433 183L420 186L407 190L393 196L380 202L367 208L356 214L346 219L339 222L341 228L349 225L359 221L370 216L383 211L397 205L411 201L423 198L435 196L446 195L458 195L469 196L481 198L492 199L503 202L514 204L525 207L536 210L548 215L560 219L571 224L580 228L589 232L595 235Z"/><path d="M661 190L656 188L651 185L645 181L637 176L630 171L621 166L613 161L604 156L596 151L587 146L579 142L571 139L563 136L555 133L546 130L538 128L529 126L521 124L514 122L507 120L500 119L495 118L491 117L489 123L493 125L498 127L504 130L510 132L517 135L525 139L532 142L540 146L548 149L555 153L562 157L568 161L575 166L582 172L590 177L597 183L605 190L612 196L619 202L625 207L631 212L636 216L639 220Z"/><path d="M676 248L662 258L642 271L620 285L595 300L571 312L548 321L523 327L496 332L467 336L439 339L410 344L385 350L360 356L337 362L314 369L292 378L270 388L250 402L229 419L210 438L192 456L178 471L167 482L173 488L184 478L200 464L219 448L239 431L260 417L280 406L300 399L321 393L343 388L366 383L390 379L415 376L442 373L471 372L500 370L530 368L559 362L588 354L617 341L644 328L669 314L689 303L704 296Z"/><path d="M669 274L657 289L641 311L623 333L603 351L581 364L551 372L515 379L478 384L443 391L412 398L383 404L355 411L330 420L310 431L295 444L284 460L279 477L280 495L288 514L304 535L325 557L344 575L357 588L363 582L351 568L333 549L315 527L302 507L298 492L299 481L304 471L312 461L324 453L340 446L362 441L389 436L419 432L449 427L483 423L521 419L559 414L596 406L629 390L657 368L680 344L698 323L711 310Z"/><path d="M677 289L672 302L665 320L657 340L648 359L637 375L625 386L607 395L583 402L556 408L528 414L504 422L485 432L471 443L459 455L451 468L445 481L441 495L441 510L444 527L450 544L456 559L462 572L466 581L474 579L471 569L467 555L463 540L459 524L458 510L460 499L464 489L470 480L477 472L487 464L499 457L514 450L536 445L562 441L591 436L619 430L645 420L667 403L684 382L698 360L708 339L716 322L723 311Z"/><path d="M682 301L679 312L675 328L671 344L665 357L659 367L646 377L629 387L610 398L592 411L576 425L559 439L543 454L531 472L525 492L530 511L541 527L554 540L568 552L582 564L600 576L619 588L636 597L648 604L652 596L642 588L626 577L609 564L594 551L582 538L570 525L561 512L555 501L554 494L558 487L567 478L582 466L599 455L614 444L631 435L650 426L671 416L691 403L708 386L720 365L728 345L734 329L738 319Z"/><path d="M398 363L396 367L394 372L392 378L389 384L386 391L383 398L380 405L376 412L373 419L369 426L365 432L361 438L357 444L352 450L346 456L341 462L335 469L329 475L324 480L319 485L314 490L311 494L308 498L312 502L316 500L320 496L325 492L331 488L337 483L343 477L350 472L356 466L363 460L369 454L374 448L379 442L384 436L389 429L394 422L398 415L403 408L407 401L410 395L414 389L417 384L420 380L422 377Z"/><path d="M706 328L712 334L720 343L730 354L740 367L752 380L764 393L776 406L789 419L803 430L818 442L834 453L849 463L863 474L876 484L887 494L896 505L904 516L911 529L918 541L923 554L928 565L933 574L936 581L944 579L942 571L940 561L937 549L933 535L929 521L923 506L916 492L907 478L896 464L883 451L869 438L856 426L842 413L829 401L819 389L809 377L799 364L790 350L781 336L772 323L765 311L759 300L754 292Z"/><path d="M745 316L761 324L782 335L807 349L836 364L866 380L898 395L932 409L970 425L1009 440L1046 455L1078 469L1105 481L1129 492L1150 502L1167 511L1180 521L1189 531L1194 544L1194 562L1190 582L1184 603L1179 621L1176 634L1184 636L1189 624L1196 607L1204 586L1210 564L1213 542L1208 521L1197 505L1182 491L1164 478L1143 465L1120 452L1094 437L1061 421L1025 404L987 386L950 369L918 353L889 337L861 320L834 303L810 288L790 274L775 264Z"/><path d="M769 298L794 306L830 320L873 335L918 348L962 357L1009 362L1056 364L1100 366L1140 368L1174 372L1204 376L1231 380L1255 386L1279 395L1302 407L1324 422L1345 438L1367 453L1389 464L1411 472L1433 479L1451 485L1464 488L1466 482L1454 476L1437 469L1417 460L1396 449L1377 437L1358 422L1338 404L1316 386L1291 370L1265 358L1238 349L1211 342L1180 336L1145 330L1104 324L1059 320L1013 316L971 309L932 299L891 285L851 268L816 253L791 242Z"/><path d="M1141 375L1147 379L1155 384L1164 390L1175 397L1186 404L1198 412L1210 420L1223 428L1235 437L1247 445L1258 453L1269 462L1281 471L1293 481L1305 491L1318 502L1330 513L1342 523L1353 533L1364 542L1373 550L1381 557L1388 562L1392 558L1387 552L1379 544L1371 535L1361 525L1350 514L1339 503L1327 491L1316 480L1304 468L1292 457L1281 447L1271 438L1260 428L1248 419L1237 409L1225 400L1213 391L1202 382L1191 374L1181 366L1172 360L1165 354L1159 349Z"/><path d="M773 260L787 257L808 253L831 249L856 245L881 243L905 243L929 245L955 249L981 254L1007 260L1034 267L1060 274L1088 281L1116 290L1143 298L1169 307L1192 315L1213 321L1233 328L1251 334L1266 340L1279 344L1289 348L1291 342L1282 338L1269 332L1254 325L1237 318L1217 310L1197 302L1174 293L1148 283L1121 273L1094 263L1066 254L1040 246L1013 238L987 230L960 224L933 218L907 214L881 213L853 214L826 216L802 220L782 222L767 224Z"/><path d="M773 235L781 226L792 214L804 201L818 191L832 184L850 178L871 174L893 172L914 172L935 174L957 179L978 186L1000 195L1019 205L1037 217L1053 231L1070 246L1089 260L1110 272L1135 282L1161 291L1183 298L1199 303L1201 297L1186 291L1164 283L1139 273L1115 262L1096 250L1079 236L1063 220L1047 204L1029 190L1008 178L986 167L963 158L940 152L917 147L893 146L868 147L845 150L822 155L802 163L783 176L768 190L756 201L747 209Z"/><ellipse cx="703" cy="258" rx="66" ry="52"/><path d="M645.0 200.0L760.0 200.0L768.0 260.0L735.0 318.0L700.0 335.0L665.0 310.0L640.0 270.0Z"/></g>
</g>
<g transform="translate(590.00 170.00) scale(0.22124 0.22124)"><path d="M336.0 264.0C332.0 253.3 324.3 220.3 312.0 200.0C299.7 179.7 284.0 158.3 262.0 142.0C240.0 125.7 193.7 108.7 180.0 102.0C190.0 113.0 221.7 146.3 240.0 168.0C258.3 189.7 277.0 210.5 290.0 232.0C303.0 253.5 313.3 286.2 318.0 297.0Z"/><path d="M336.0 262.0C343.0 250.3 359.8 209.5 378.0 192.0C396.2 174.5 423.8 164.8 445.0 157.0C466.2 149.2 495.0 147.0 505.0 145.0C494.2 151.7 459.2 171.2 440.0 185.0C420.8 198.8 404.0 211.5 390.0 228.0C376.0 244.5 361.7 274.7 356.0 284.0Z"/><path d="M356.0 284.0C366.7 275.3 396.0 244.0 420.0 232.0C444.0 220.0 475.0 215.7 500.0 212.0C525.0 208.3 558.3 210.3 570.0 210.0C556.7 214.5 515.0 227.3 490.0 237.0C465.0 246.7 442.0 253.5 420.0 268.0C398.0 282.5 368.3 314.7 358.0 324.0Z"/><path d="M320.0 274.0C313.7 266.0 297.0 237.2 282.0 226.0C267.0 214.8 247.8 205.0 230.0 207.0C212.2 209.0 190.3 221.7 175.0 238.0C159.7 254.3 144.2 293.8 138.0 305.0C146.3 297.8 171.0 271.8 188.0 262.0C205.0 252.2 223.8 244.3 240.0 246.0C256.2 247.7 271.7 259.0 285.0 272.0C298.3 285.0 314.2 315.3 320.0 324.0Z"/><path d="M320.0 344.0C314.2 339.3 297.5 322.0 285.0 316.0C272.5 310.0 258.3 304.7 245.0 308.0C231.7 311.3 216.2 322.3 205.0 336.0C193.8 349.7 182.5 381.0 178.0 390.0C184.2 384.3 202.2 364.2 215.0 356.0C227.8 347.8 242.5 340.2 255.0 341.0C267.5 341.8 279.2 352.2 290.0 361.0C300.8 369.8 315.0 388.5 320.0 394.0Z"/><path d="M356.0 354.0C363.3 348.5 384.3 327.8 400.0 321.0C415.7 314.2 433.7 311.5 450.0 313.0C466.3 314.5 486.3 323.0 498.0 330.0C509.7 337.0 516.3 350.8 520.0 355.0C512.0 352.7 488.7 342.5 472.0 341.0C455.3 339.5 435.3 341.0 420.0 346.0C404.7 351.0 390.7 361.3 380.0 371.0C369.3 380.7 360.0 398.5 356.0 404.0Z"/><path d="M356.0 427.0C362.0 421.5 376.7 403.2 392.0 394.0C407.3 384.8 438.7 375.7 448.0 372.0C440.3 380.0 414.7 403.7 402.0 420.0C389.3 436.3 379.7 456.0 372.0 470.0C364.3 484.0 358.7 498.3 356.0 504.0Z"/><path d="M320.0 444.0C315.0 440.2 300.8 425.8 290.0 421.0C279.2 416.2 270.5 411.8 255.0 415.0C239.5 418.2 206.7 435.8 197.0 440.0C205.8 439.3 234.5 433.3 250.0 436.0C265.5 438.7 278.3 446.3 290.0 456.0C301.7 465.7 315.0 487.7 320.0 494.0Z"/><path d="M320.0 594.0C315.0 590.5 300.8 577.0 290.0 573.0C279.2 569.0 272.0 564.7 255.0 570.0C238.0 575.3 199.2 599.2 188.0 605.0C198.3 602.7 233.0 590.8 250.0 591.0C267.0 591.2 278.3 597.2 290.0 606.0C301.7 614.8 315.0 637.7 320.0 644.0Z"/><path d="M356.0 594.0C361.7 590.5 377.7 577.0 390.0 573.0C402.3 569.0 416.7 567.8 430.0 570.0C443.3 572.2 458.8 580.2 470.0 586.0C481.2 591.8 492.5 601.8 497.0 605.0C487.5 602.7 456.2 592.5 440.0 591.0C423.8 589.5 411.7 591.0 400.0 596.0C388.3 601.0 377.3 611.3 370.0 621.0C362.7 630.7 358.3 648.5 356.0 654.0Z"/><path d="M318.0 297.0L336.0 260.0L358.0 300.0L358.0 800.0L318.0 800.0Z"/></g>
<g transform="translate(664.80 348.00) scale(0.05949 0.07874) translate(-700 -250)"><path d="M689 238L657 240L611 242L558 246L505 252L459 261L414 274L371 289L331 306L298 324L273 342L255 361L243 380L235 400L228 420L222 442L219 464L219 487L221 511L226 538L235 570L247 603L258 632L266 651L274 649L268 628L258 599L248 566L240 535L237 509L237 487L239 466L243 446L249 428L257 409L266 393L276 378L291 364L313 350L344 335L382 321L424 307L467 297L510 289L561 285L613 283L659 283L691 282Z"/><path d="M681 228L672 228L659 227L645 226L628 225L610 224L592 223L573 222L554 222L535 221L515 220L494 219L472 218L450 218L428 219L406 220L385 224L361 229L337 235L313 242L290 249L269 255L252 261L239 265L241 271L254 268L272 263L292 258L315 252L339 246L364 240L387 236L408 234L429 233L450 234L471 235L493 236L514 238L534 240L553 242L572 243L590 245L608 247L626 249L642 251L657 253L669 254L679 256Z"/><path d="M604 212L597 210L589 207L578 204L567 200L554 196L542 192L529 189L518 187L506 185L494 184L482 183L470 182L458 182L445 183L433 184L421 187L407 191L394 197L380 203L367 209L356 214L346 219L339 222L341 228L349 225L358 220L370 215L383 210L397 205L410 200L423 197L435 195L446 194L458 194L469 195L481 196L492 197L504 200L515 202L526 204L537 208L549 212L561 216L572 221L582 225L590 229L596 232Z"/><path d="M658 194L654 191L648 188L642 184L635 180L627 174L619 169L611 164L602 159L594 153L586 149L578 145L570 141L562 138L554 135L545 132L537 129L529 127L521 125L513 123L506 121L500 120L495 118L491 117L489 123L493 124L498 127L504 129L510 132L518 134L525 138L533 141L541 144L548 148L556 151L563 155L569 159L576 164L584 169L591 175L599 181L607 187L614 193L621 198L628 204L633 209L638 213L642 216Z"/><path d="M680 254L665 263L646 276L623 291L598 305L573 317L549 326L524 332L497 337L468 340L439 343L411 347L385 353L361 359L337 365L315 372L292 380L271 390L251 403L230 420L210 438L193 456L178 471L167 482L173 488L184 478L200 464L218 447L238 430L259 416L279 405L299 397L320 390L342 385L366 380L390 376L415 372L442 369L470 368L500 366L529 363L558 357L586 348L614 336L641 322L665 309L686 297L700 290Z"/><path d="M675 279L663 294L646 315L627 337L606 356L583 369L552 378L516 384L479 389L444 395L413 402L384 408L356 415L331 423L311 433L296 446L286 461L281 477L281 495L289 514L305 535L325 556L344 575L357 588L363 582L351 569L333 549L314 527L301 507L296 492L297 480L302 470L310 460L322 451L339 443L361 438L388 433L418 428L449 422L483 418L520 414L558 409L594 400L626 385L653 363L675 340L693 319L705 305Z"/><path d="M683 292L678 305L671 323L663 343L653 362L641 378L628 390L609 399L584 406L556 412L529 418L505 425L487 435L472 446L461 457L453 469L447 482L443 495L442 510L445 527L451 543L457 559L463 572L466 581L474 579L471 569L467 556L462 540L458 524L456 510L458 499L462 488L468 479L475 470L485 462L498 454L513 447L535 442L561 437L590 432L618 426L643 416L663 400L680 380L692 358L703 337L711 320L717 308Z"/><path d="M689 303L686 315L682 330L677 346L671 361L663 371L649 382L632 392L613 403L595 415L578 428L562 442L546 457L534 473L528 492L533 510L543 525L556 539L569 551L583 563L601 576L620 587L636 597L648 604L652 596L642 588L626 577L609 565L593 552L581 539L569 526L559 513L552 502L551 493L555 486L564 475L579 463L596 451L612 440L629 431L648 421L668 411L687 399L702 382L713 362L721 343L727 327L731 317Z"/><path d="M401 365L399 369L397 374L395 379L392 385L389 392L385 399L382 406L378 413L374 420L371 427L367 433L363 439L358 445L353 451L347 457L341 463L336 469L330 475L324 481L319 486L314 490L311 494L308 498L312 502L316 500L320 496L325 492L330 487L336 482L343 477L349 471L355 465L362 459L367 453L373 447L378 441L382 435L387 428L392 421L396 414L400 407L404 400L408 394L411 388L414 383L417 378L419 375Z"/><path d="M712 323L718 330L726 339L735 350L745 363L756 376L768 390L780 403L793 415L806 427L821 438L836 450L851 461L865 471L878 482L889 493L898 503L906 515L913 528L919 541L924 553L929 565L933 574L936 581L944 579L942 571L939 561L936 549L932 536L927 522L921 507L914 493L905 480L894 467L881 454L867 441L853 429L839 416L826 404L815 393L805 381L795 368L785 354L776 340L767 327L759 315L753 305L748 297Z"/><path d="M749 309L764 317L785 329L811 343L839 359L869 374L900 389L935 404L972 420L1011 435L1048 451L1080 465L1107 478L1131 489L1151 499L1168 509L1181 519L1190 530L1195 544L1195 562L1191 583L1185 603L1179 621L1176 634L1184 636L1188 624L1195 607L1203 586L1209 564L1211 542L1206 522L1195 506L1180 493L1162 480L1142 468L1119 456L1092 441L1059 425L1023 408L985 391L948 374L915 358L886 342L858 326L831 309L807 294L786 281L771 271Z"/><path d="M772 291L797 300L833 313L875 328L920 342L963 351L1009 356L1056 359L1101 361L1141 364L1175 368L1205 372L1232 377L1256 383L1280 392L1303 404L1325 420L1347 436L1368 451L1390 462L1412 471L1433 479L1451 484L1464 488L1466 482L1454 476L1436 469L1416 461L1395 451L1376 439L1357 424L1336 406L1314 388L1290 373L1264 361L1238 353L1210 346L1179 340L1144 334L1103 330L1058 326L1013 322L970 315L930 306L888 291L848 275L813 260L788 249Z"/><path d="M1143 372L1149 376L1157 381L1167 387L1177 394L1188 401L1200 409L1212 417L1224 426L1237 435L1248 443L1260 452L1271 460L1282 469L1294 479L1306 490L1319 501L1331 512L1343 522L1354 532L1364 542L1373 550L1381 557L1388 562L1392 558L1386 552L1379 544L1370 535L1360 526L1350 515L1338 504L1327 492L1315 481L1303 470L1291 459L1280 449L1270 440L1258 430L1247 421L1235 412L1223 402L1211 393L1200 385L1189 377L1179 369L1170 363L1163 357L1157 352Z"/><path d="M772 255L787 253L807 249L830 245L856 241L881 239L905 239L930 242L955 246L982 251L1008 258L1035 265L1061 271L1088 279L1116 288L1144 297L1169 305L1193 313L1214 320L1233 327L1251 334L1266 339L1279 344L1289 348L1291 342L1282 338L1269 333L1254 326L1236 319L1217 311L1197 303L1173 294L1148 285L1121 275L1093 265L1065 256L1039 248L1013 241L986 233L959 227L933 221L907 218L881 216L854 218L827 220L803 224L783 227L768 229Z"/><path d="M770 232L778 223L789 211L802 198L816 187L831 180L850 175L871 171L893 169L915 169L936 172L958 177L979 184L1001 193L1020 203L1038 215L1054 230L1071 245L1090 259L1111 271L1136 281L1161 290L1183 297L1199 303L1201 297L1186 291L1164 283L1139 273L1115 263L1095 251L1078 237L1062 221L1046 205L1028 191L1007 180L985 170L963 161L939 154L916 150L893 149L869 150L845 153L824 159L804 167L786 179L771 193L759 205L750 212Z"/><ellipse cx="703" cy="258" rx="66" ry="52"/><path d="M645.0 200.0L760.0 200.0L768.0 260.0L735.0 318.0L700.0 335.0L665.0 310.0L640.0 270.0Z"/></g>
<rect x="835.95" y="189.00" width="10.50" height="158.00" fill="#000" stroke="none"/><rect x="839.10" y="192.70" width="4.20" height="19.00" fill="#fff" stroke="none"/><rect x="839.10" y="214.80" width="4.20" height="19.10" fill="#fff" stroke="none"/><rect x="839.10" y="236.60" width="4.20" height="18.40" fill="#fff" stroke="none"/><rect x="839.10" y="258.00" width="4.20" height="18.00" fill="#fff" stroke="none"/><rect x="839.10" y="279.90" width="4.20" height="18.40" fill="#fff" stroke="none"/><rect x="839.10" y="301.40" width="4.20" height="18.00" fill="#fff" stroke="none"/><rect x="839.10" y="323.20" width="4.20" height="18.40" fill="#fff" stroke="none"/>
<g transform="translate(766.00 70.00) scale(0.15090 0.15090)"><g stroke-width="4.5"><path d="M435.0 405.0C427.5 392.5 405.8 351.7 390.0 330.0C374.2 308.3 360.0 288.7 340.0 275.0C320.0 261.3 293.3 250.5 270.0 248.0C246.7 245.5 221.7 251.3 200.0 260.0C178.3 268.7 158.0 282.0 140.0 300.0C122.0 318.0 100.0 356.7 92.0 368.0C101.7 361.7 127.0 340.5 150.0 330.0C173.0 319.5 205.0 305.0 230.0 305.0C255.0 305.0 280.0 315.8 300.0 330.0C320.0 344.2 333.3 365.0 350.0 390.0C366.7 415.0 386.7 452.5 400.0 480.0C413.3 507.5 425.0 542.5 430.0 555.0Z"/><path d="M440.0 430.0C438.0 408.3 428.5 345.0 428.0 300.0C427.5 255.0 435.5 183.3 437.0 160.0C441.2 186.7 454.5 264.7 462.0 320.0C469.5 375.3 478.7 463.3 482.0 492.0Z"/><path d="M482.0 492.0C485.0 470.0 489.5 402.0 500.0 360.0C510.5 318.0 521.7 282.0 545.0 240.0C568.3 198.0 624.2 130.0 640.0 108.0C630.0 131.7 595.0 211.3 580.0 250.0C565.0 288.7 557.5 313.3 550.0 340.0C542.5 366.7 537.5 398.3 535.0 410.0Z"/><path d="M535.0 410.0C542.5 393.3 562.5 335.8 580.0 310.0C597.5 284.2 616.7 266.7 640.0 255.0C663.3 243.3 691.7 238.3 720.0 240.0C748.3 241.7 780.8 251.3 810.0 265.0C839.2 278.7 880.8 312.5 895.0 322.0C879.2 317.5 829.2 299.5 800.0 295.0C770.8 290.5 745.0 287.5 720.0 295.0C695.0 302.5 670.0 319.2 650.0 340.0C630.0 360.8 615.8 382.5 600.0 420.0C584.2 457.5 562.5 540.8 555.0 565.0Z"/><path d="M430.0 555.0C413.3 544.2 368.3 506.7 330.0 490.0C291.7 473.3 246.3 459.2 200.0 455.0C153.7 450.8 76.7 463.3 52.0 465.0C73.3 470.0 138.7 479.2 180.0 495.0C221.3 510.8 260.0 534.2 300.0 560.0C340.0 585.8 400.0 635.0 420.0 650.0Z"/><path d="M555.0 565.0C564.2 550.8 585.8 498.3 610.0 480.0C634.2 461.7 670.0 453.3 700.0 455.0C730.0 456.7 765.8 472.5 790.0 490.0C814.2 507.5 830.8 535.0 845.0 560.0C859.2 585.0 870.0 626.7 875.0 640.0C864.2 625.8 834.2 576.3 810.0 555.0C785.8 533.7 756.7 517.0 730.0 512.0C703.3 507.0 673.3 510.3 650.0 525.0C626.7 539.7 607.5 570.0 590.0 600.0C572.5 630.0 552.5 687.5 545.0 705.0Z"/><path d="M420.0 650.0C408.3 644.2 376.7 622.5 350.0 615.0C323.3 607.5 286.7 601.7 260.0 605.0C233.3 608.3 208.7 620.0 190.0 635.0C171.3 650.0 155.0 685.0 148.0 695.0C158.3 688.3 186.3 662.5 210.0 655.0C233.7 647.5 263.3 644.2 290.0 650.0C316.7 655.8 346.7 674.2 370.0 690.0C393.3 705.8 413.7 727.2 430.0 745.0C446.3 762.8 461.7 788.3 468.0 797.0Z"/><path d="M545.0 705.0C552.5 691.7 570.8 643.0 590.0 625.0C609.2 607.0 635.8 593.7 660.0 597.0C684.2 600.3 711.7 618.7 735.0 645.0C758.3 671.3 789.2 736.7 800.0 755.0C788.3 740.8 752.5 688.0 730.0 670.0C707.5 652.0 685.8 646.2 665.0 647.0C644.2 647.8 622.5 658.7 605.0 675.0C587.5 691.3 572.5 724.7 560.0 745.0C547.5 765.3 535.0 788.3 530.0 797.0Z"/><path d="M434.0 415.0L482.0 480.0L541.0 405.0L563.0 565.0L552.0 705.0L534.0 799.0L463.0 799.0L414.0 650.0L424.0 555.0Z"/></g></g>
<g transform="translate(841.20 346.90) scale(0.08749 0.08749) translate(-700 -250)"><path d="M689 242L657 244L611 246L558 250L505 255L460 264L415 277L372 292L332 309L299 326L274 344L257 362L245 381L237 401L229 421L224 442L221 464L220 487L222 511L227 538L236 570L247 603L258 631L266 651L274 649L268 628L258 599L248 566L240 535L236 509L236 487L237 466L241 446L248 427L255 409L264 392L274 376L289 362L312 348L343 333L381 318L423 304L466 293L510 286L560 281L612 279L658 278L691 278Z"/><path d="M681 231L672 231L659 230L645 229L628 228L610 226L592 225L573 224L554 223L535 223L515 221L494 220L472 219L450 219L428 220L406 221L385 225L361 229L337 235L313 242L290 249L269 256L252 261L239 265L241 271L254 268L271 263L292 257L315 251L339 245L363 240L386 236L408 233L429 232L450 232L471 233L493 235L514 236L534 238L553 240L572 241L590 243L609 245L626 246L643 248L657 250L670 252L679 253Z"/><path d="M603 214L596 212L588 209L578 205L566 201L554 197L541 193L529 190L517 188L506 186L494 185L482 184L470 183L458 183L445 183L433 185L421 187L407 192L394 197L380 203L367 209L356 214L346 219L339 222L341 228L349 225L358 220L370 215L383 210L397 204L410 200L423 196L435 194L446 193L458 193L469 194L481 195L493 196L504 198L515 200L526 203L538 206L549 210L561 215L572 219L582 223L591 227L597 230Z"/><path d="M656 196L652 194L647 190L641 186L634 181L626 176L618 171L610 165L601 160L593 155L585 150L577 146L569 142L562 139L553 136L545 133L537 130L529 128L521 125L513 123L506 121L500 120L495 119L491 117L489 123L493 124L498 126L504 129L511 131L518 134L525 137L533 140L541 143L549 147L556 150L563 154L570 158L577 163L585 168L592 173L600 179L608 185L615 191L623 197L629 202L635 207L640 211L644 214Z"/><path d="M682 258L667 267L648 279L625 294L600 308L574 320L550 329L525 335L497 339L468 342L439 346L411 349L386 355L361 361L338 366L315 373L293 381L272 391L251 404L230 421L211 439L193 456L178 472L167 482L173 488L184 478L200 463L218 447L238 430L258 415L278 404L298 395L320 389L342 383L365 379L389 374L415 370L441 367L470 365L499 363L529 360L557 354L585 345L612 333L639 319L663 305L683 294L698 286Z"/><path d="M678 281L666 296L649 317L630 340L608 359L584 372L553 381L516 387L479 392L444 398L414 404L384 410L356 417L332 424L312 435L297 447L287 462L282 478L282 495L289 513L305 535L325 556L344 575L357 588L363 582L351 569L333 549L314 528L300 508L295 493L296 480L300 469L309 459L321 449L338 442L361 436L388 430L418 425L448 420L482 415L520 411L558 406L593 397L624 382L650 361L672 337L690 316L702 303Z"/><path d="M687 294L681 306L674 324L666 344L655 364L643 381L629 393L610 401L584 408L557 414L530 420L506 427L488 437L473 447L462 458L454 470L448 482L444 496L443 510L446 527L451 543L457 559L463 572L466 581L474 579L471 569L466 556L461 540L457 524L456 510L457 498L461 488L467 478L474 469L484 460L497 452L513 445L534 439L561 435L589 430L617 423L642 413L661 398L677 378L689 356L699 335L707 318L713 306Z"/><path d="M693 305L690 316L686 331L681 348L674 363L665 374L651 384L634 395L614 405L596 417L580 430L563 444L548 459L536 474L530 492L534 509L544 524L557 538L570 550L584 563L601 575L620 587L636 597L648 604L652 596L642 588L626 578L608 565L592 552L580 540L568 527L558 514L551 502L549 493L553 485L563 474L578 461L594 449L610 438L627 428L646 419L666 408L685 396L699 380L710 361L717 342L723 326L727 315Z"/><path d="M403 366L401 370L399 375L396 380L393 386L390 393L387 400L383 407L379 414L375 421L371 428L367 434L363 439L359 445L353 451L348 457L342 464L336 470L330 475L324 481L319 486L315 491L311 494L308 498L312 502L316 500L320 496L325 492L330 487L336 482L342 476L349 470L355 464L361 458L367 452L372 446L377 441L382 434L386 427L390 420L395 413L399 406L403 399L406 393L410 387L412 382L415 377L417 374Z"/><path d="M716 321L722 327L729 337L738 348L748 361L759 374L771 388L783 401L795 413L808 425L823 436L838 448L852 459L867 470L879 481L890 492L899 503L907 515L914 528L920 541L925 553L929 565L933 574L936 581L944 579L941 571L939 561L935 549L931 536L926 522L920 508L912 494L903 481L892 468L879 455L866 443L852 431L838 418L824 407L813 395L803 383L792 370L782 356L773 343L764 329L756 317L749 307L744 299Z"/><path d="M751 305L767 314L788 326L813 340L841 356L871 371L902 386L936 401L974 417L1012 433L1049 448L1081 463L1108 476L1132 487L1152 498L1169 508L1182 518L1191 530L1196 543L1196 562L1192 583L1185 603L1180 621L1176 634L1184 636L1188 624L1195 607L1202 586L1208 564L1210 542L1205 523L1194 507L1179 494L1161 482L1141 470L1118 457L1091 443L1058 427L1022 411L984 394L947 377L914 361L885 346L856 329L829 313L804 297L784 284L769 275Z"/><path d="M774 286L799 296L835 309L877 325L921 338L964 347L1010 352L1056 355L1101 358L1141 361L1175 365L1205 370L1232 375L1257 381L1281 390L1304 403L1326 419L1347 436L1368 450L1390 462L1412 471L1433 478L1451 484L1464 488L1466 482L1454 477L1436 470L1416 461L1395 451L1375 440L1356 424L1335 407L1313 389L1289 374L1263 363L1237 355L1209 349L1179 343L1144 337L1103 333L1058 329L1012 325L969 319L929 309L887 295L846 279L811 264L786 254Z"/><path d="M1144 370L1151 374L1159 379L1168 385L1178 392L1189 400L1201 408L1213 416L1225 425L1237 433L1249 442L1261 451L1271 459L1283 469L1295 479L1307 489L1319 500L1331 511L1343 522L1354 532L1364 542L1374 550L1381 557L1388 562L1392 558L1386 552L1379 544L1370 536L1360 526L1349 515L1338 504L1326 493L1314 481L1302 470L1290 460L1279 450L1269 441L1258 431L1246 422L1234 413L1222 404L1210 395L1199 386L1188 378L1178 371L1169 365L1161 359L1156 354Z"/><path d="M772 253L786 250L806 246L830 242L856 239L881 237L905 237L930 240L956 244L982 250L1009 256L1035 263L1061 270L1089 278L1117 287L1144 296L1170 305L1193 313L1214 320L1233 327L1251 333L1266 339L1279 344L1289 348L1291 342L1282 338L1269 333L1254 326L1236 319L1217 311L1196 304L1173 295L1147 285L1120 276L1093 266L1065 257L1039 250L1012 242L986 235L959 229L933 223L907 220L881 219L854 220L827 223L803 226L783 230L768 231Z"/><path d="M768 230L776 221L787 209L800 196L814 185L830 178L849 173L871 169L893 167L915 167L936 170L958 176L980 183L1001 192L1021 202L1038 215L1055 229L1072 245L1090 259L1111 270L1136 281L1161 290L1184 297L1199 303L1201 297L1186 292L1164 283L1139 274L1115 263L1095 251L1078 237L1062 222L1045 206L1027 192L1007 181L985 171L962 162L939 156L916 152L893 151L869 152L846 156L824 161L805 169L788 181L773 195L761 206L752 214Z"/><ellipse cx="703" cy="258" rx="66" ry="52"/><path d="M645.0 200.0L760.0 200.0L768.0 260.0L735.0 318.0L700.0 335.0L665.0 310.0L640.0 270.0Z"/></g>
<rect x="956.95" y="169.00" width="10.50" height="178.00" fill="#000" stroke="none"/><rect x="960.10" y="171.40" width="4.20" height="18.20" fill="#fff" stroke="none"/><rect x="960.10" y="192.70" width="4.20" height="19.00" fill="#fff" stroke="none"/><rect x="960.10" y="214.80" width="4.20" height="19.10" fill="#fff" stroke="none"/><rect x="960.10" y="236.60" width="4.20" height="18.40" fill="#fff" stroke="none"/><rect x="960.10" y="258.00" width="4.20" height="18.00" fill="#fff" stroke="none"/><rect x="960.10" y="279.90" width="4.20" height="18.40" fill="#fff" stroke="none"/><rect x="960.10" y="301.40" width="4.20" height="18.00" fill="#fff" stroke="none"/><rect x="960.10" y="323.20" width="4.20" height="18.40" fill="#fff" stroke="none"/>
<g transform="translate(962.3 170.2) scale(0.15844 0.16810) translate(-498.5 -797)"><g stroke-width="4.5"><path d="M435.0 405.0C427.5 392.5 405.8 351.7 390.0 330.0C374.2 308.3 360.0 288.7 340.0 275.0C320.0 261.3 293.3 250.5 270.0 248.0C246.7 245.5 221.7 251.3 200.0 260.0C178.3 268.7 158.0 282.0 140.0 300.0C122.0 318.0 100.0 356.7 92.0 368.0C101.7 361.7 127.0 340.5 150.0 330.0C173.0 319.5 205.0 305.0 230.0 305.0C255.0 305.0 280.0 315.8 300.0 330.0C320.0 344.2 333.3 365.0 350.0 390.0C366.7 415.0 386.7 452.5 400.0 480.0C413.3 507.5 425.0 542.5 430.0 555.0Z"/><path d="M440.0 430.0C438.0 408.3 428.5 345.0 428.0 300.0C427.5 255.0 435.5 183.3 437.0 160.0C441.2 186.7 454.5 264.7 462.0 320.0C469.5 375.3 478.7 463.3 482.0 492.0Z"/><path d="M482.0 492.0C485.0 470.0 489.5 402.0 500.0 360.0C510.5 318.0 521.7 282.0 545.0 240.0C568.3 198.0 624.2 130.0 640.0 108.0C630.0 131.7 595.0 211.3 580.0 250.0C565.0 288.7 557.5 313.3 550.0 340.0C542.5 366.7 537.5 398.3 535.0 410.0Z"/><path d="M535.0 410.0C542.5 393.3 562.5 335.8 580.0 310.0C597.5 284.2 616.7 266.7 640.0 255.0C663.3 243.3 691.7 238.3 720.0 240.0C748.3 241.7 780.8 251.3 810.0 265.0C839.2 278.7 880.8 312.5 895.0 322.0C879.2 317.5 829.2 299.5 800.0 295.0C770.8 290.5 745.0 287.5 720.0 295.0C695.0 302.5 670.0 319.2 650.0 340.0C630.0 360.8 615.8 382.5 600.0 420.0C584.2 457.5 562.5 540.8 555.0 565.0Z"/><path d="M430.0 555.0C413.3 544.2 368.3 506.7 330.0 490.0C291.7 473.3 246.3 459.2 200.0 455.0C153.7 450.8 76.7 463.3 52.0 465.0C73.3 470.0 138.7 479.2 180.0 495.0C221.3 510.8 260.0 534.2 300.0 560.0C340.0 585.8 400.0 635.0 420.0 650.0Z"/><path d="M555.0 565.0C564.2 550.8 585.8 498.3 610.0 480.0C634.2 461.7 670.0 453.3 700.0 455.0C730.0 456.7 765.8 472.5 790.0 490.0C814.2 507.5 830.8 535.0 845.0 560.0C859.2 585.0 870.0 626.7 875.0 640.0C864.2 625.8 834.2 576.3 810.0 555.0C785.8 533.7 756.7 517.0 730.0 512.0C703.3 507.0 673.3 510.3 650.0 525.0C626.7 539.7 607.5 570.0 590.0 600.0C572.5 630.0 552.5 687.5 545.0 705.0Z"/><path d="M420.0 650.0C408.3 644.2 376.7 622.5 350.0 615.0C323.3 607.5 286.7 601.7 260.0 605.0C233.3 608.3 208.7 620.0 190.0 635.0C171.3 650.0 155.0 685.0 148.0 695.0C158.3 688.3 186.3 662.5 210.0 655.0C233.7 647.5 263.3 644.2 290.0 650.0C316.7 655.8 346.7 674.2 370.0 690.0C393.3 705.8 413.7 727.2 430.0 745.0C446.3 762.8 461.7 788.3 468.0 797.0Z"/><path d="M545.0 705.0C552.5 691.7 570.8 643.0 590.0 625.0C609.2 607.0 635.8 593.7 660.0 597.0C684.2 600.3 711.7 618.7 735.0 645.0C758.3 671.3 789.2 736.7 800.0 755.0C788.3 740.8 752.5 688.0 730.0 670.0C707.5 652.0 685.8 646.2 665.0 647.0C644.2 647.8 622.5 658.7 605.0 675.0C587.5 691.3 572.5 724.7 560.0 745.0C547.5 765.3 535.0 788.3 530.0 797.0Z"/><path d="M434.0 415.0L482.0 480.0L541.0 405.0L563.0 565.0L552.0 705.0L534.0 799.0L463.0 799.0L414.0 650.0L424.0 555.0Z"/></g></g>
<g transform="translate(962.30 346.90) scale(0.08749 0.08749) translate(-700 -250)"><path d="M689 242L657 244L611 246L558 250L505 255L460 264L415 277L372 292L332 309L299 326L274 344L257 362L245 381L237 401L229 421L224 442L221 464L220 487L222 511L227 538L236 570L247 603L258 631L266 651L274 649L268 628L258 599L248 566L240 535L236 509L236 487L237 466L241 446L248 427L255 409L264 392L274 376L289 362L312 348L343 333L381 318L423 304L466 293L510 286L560 281L612 279L658 278L691 278Z"/><path d="M681 231L672 231L659 230L645 229L628 228L610 226L592 225L573 224L554 223L535 223L515 221L494 220L472 219L450 219L428 220L406 221L385 225L361 229L337 235L313 242L290 249L269 256L252 261L239 265L241 271L254 268L271 263L292 257L315 251L339 245L363 240L386 236L408 233L429 232L450 232L471 233L493 235L514 236L534 238L553 240L572 241L590 243L609 245L626 246L643 248L657 250L670 252L679 253Z"/><path d="M603 214L596 212L588 209L578 205L566 201L554 197L541 193L529 190L517 188L506 186L494 185L482 184L470 183L458 183L445 183L433 185L421 187L407 192L394 197L380 203L367 209L356 214L346 219L339 222L341 228L349 225L358 220L370 215L383 210L397 204L410 200L423 196L435 194L446 193L458 193L469 194L481 195L493 196L504 198L515 200L526 203L538 206L549 210L561 215L572 219L582 223L591 227L597 230Z"/><path d="M656 196L652 194L647 190L641 186L634 181L626 176L618 171L610 165L601 160L593 155L585 150L577 146L569 142L562 139L553 136L545 133L537 130L529 128L521 125L513 123L506 121L500 120L495 119L491 117L489 123L493 124L498 126L504 129L511 131L518 134L525 137L533 140L541 143L549 147L556 150L563 154L570 158L577 163L585 168L592 173L600 179L608 185L615 191L623 197L629 202L635 207L640 211L644 214Z"/><path d="M682 258L667 267L648 279L625 294L600 308L574 320L550 329L525 335L497 339L468 342L439 346L411 349L386 355L361 361L338 366L315 373L293 381L272 391L251 404L230 421L211 439L193 456L178 472L167 482L173 488L184 478L200 463L218 447L238 430L258 415L278 404L298 395L320 389L342 383L365 379L389 374L415 370L441 367L470 365L499 363L529 360L557 354L585 345L612 333L639 319L663 305L683 294L698 286Z"/><path d="M678 281L666 296L649 317L630 340L608 359L584 372L553 381L516 387L479 392L444 398L414 404L384 410L356 417L332 424L312 435L297 447L287 462L282 478L282 495L289 513L305 535L325 556L344 575L357 588L363 582L351 569L333 549L314 528L300 508L295 493L296 480L300 469L309 459L321 449L338 442L361 436L388 430L418 425L448 420L482 415L520 411L558 406L593 397L624 382L650 361L672 337L690 316L702 303Z"/><path d="M687 294L681 306L674 324L666 344L655 364L643 381L629 393L610 401L584 408L557 414L530 420L506 427L488 437L473 447L462 458L454 470L448 482L444 496L443 510L446 527L451 543L457 559L463 572L466 581L474 579L471 569L466 556L461 540L457 524L456 510L457 498L461 488L467 478L474 469L484 460L497 452L513 445L534 439L561 435L589 430L617 423L642 413L661 398L677 378L689 356L699 335L707 318L713 306Z"/><path d="M693 305L690 316L686 331L681 348L674 363L665 374L651 384L634 395L614 405L596 417L580 430L563 444L548 459L536 474L530 492L534 509L544 524L557 538L570 550L584 563L601 575L620 587L636 597L648 604L652 596L642 588L626 578L608 565L592 552L580 540L568 527L558 514L551 502L549 493L553 485L563 474L578 461L594 449L610 438L627 428L646 419L666 408L685 396L699 380L710 361L717 342L723 326L727 315Z"/><path d="M403 366L401 370L399 375L396 380L393 386L390 393L387 400L383 407L379 414L375 421L371 428L367 434L363 439L359 445L353 451L348 457L342 464L336 470L330 475L324 481L319 486L315 491L311 494L308 498L312 502L316 500L320 496L325 492L330 487L336 482L342 476L349 470L355 464L361 458L367 452L372 446L377 441L382 434L386 427L390 420L395 413L399 406L403 399L406 393L410 387L412 382L415 377L417 374Z"/><path d="M716 321L722 327L729 337L738 348L748 361L759 374L771 388L783 401L795 413L808 425L823 436L838 448L852 459L867 470L879 481L890 492L899 503L907 515L914 528L920 541L925 553L929 565L933 574L936 581L944 579L941 571L939 561L935 549L931 536L926 522L920 508L912 494L903 481L892 468L879 455L866 443L852 431L838 418L824 407L813 395L803 383L792 370L782 356L773 343L764 329L756 317L749 307L744 299Z"/><path d="M751 305L767 314L788 326L813 340L841 356L871 371L902 386L936 401L974 417L1012 433L1049 448L1081 463L1108 476L1132 487L1152 498L1169 508L1182 518L1191 530L1196 543L1196 562L1192 583L1185 603L1180 621L1176 634L1184 636L1188 624L1195 607L1202 586L1208 564L1210 542L1205 523L1194 507L1179 494L1161 482L1141 470L1118 457L1091 443L1058 427L1022 411L984 394L947 377L914 361L885 346L856 329L829 313L804 297L784 284L769 275Z"/><path d="M774 286L799 296L835 309L877 325L921 338L964 347L1010 352L1056 355L1101 358L1141 361L1175 365L1205 370L1232 375L1257 381L1281 390L1304 403L1326 419L1347 436L1368 450L1390 462L1412 471L1433 478L1451 484L1464 488L1466 482L1454 477L1436 470L1416 461L1395 451L1375 440L1356 424L1335 407L1313 389L1289 374L1263 363L1237 355L1209 349L1179 343L1144 337L1103 333L1058 329L1012 325L969 319L929 309L887 295L846 279L811 264L786 254Z"/><path d="M1144 370L1151 374L1159 379L1168 385L1178 392L1189 400L1201 408L1213 416L1225 425L1237 433L1249 442L1261 451L1271 459L1283 469L1295 479L1307 489L1319 500L1331 511L1343 522L1354 532L1364 542L1374 550L1381 557L1388 562L1392 558L1386 552L1379 544L1370 536L1360 526L1349 515L1338 504L1326 493L1314 481L1302 470L1290 460L1279 450L1269 441L1258 431L1246 422L1234 413L1222 404L1210 395L1199 386L1188 378L1178 371L1169 365L1161 359L1156 354Z"/><path d="M772 253L786 250L806 246L830 242L856 239L881 237L905 237L930 240L956 244L982 250L1009 256L1035 263L1061 270L1089 278L1117 287L1144 296L1170 305L1193 313L1214 320L1233 327L1251 333L1266 339L1279 344L1289 348L1291 342L1282 338L1269 333L1254 326L1236 319L1217 311L1196 304L1173 295L1147 285L1120 276L1093 266L1065 257L1039 250L1012 242L986 235L959 229L933 223L907 220L881 219L854 220L827 223L803 226L783 230L768 231Z"/><path d="M768 230L776 221L787 209L800 196L814 185L830 178L849 173L871 169L893 167L915 167L936 170L958 176L980 183L1001 192L1021 202L1038 215L1055 229L1072 245L1090 259L1111 270L1136 281L1161 290L1184 297L1199 303L1201 297L1186 292L1164 283L1139 274L1115 263L1095 251L1078 237L1062 222L1045 206L1027 192L1007 181L985 171L962 162L939 156L916 152L893 151L869 152L846 156L824 161L805 169L788 181L773 195L761 206L752 214Z"/><ellipse cx="703" cy="258" rx="66" ry="52"/><path d="M645.0 200.0L760.0 200.0L768.0 260.0L735.0 318.0L700.0 335.0L665.0 310.0L640.0 270.0Z"/></g>
<g transform="translate(770.00 180.00) scale(0.21119 0.21119)"><path d="M314.0 372.0C311.7 368.3 306.5 357.8 300.0 350.0C293.5 342.2 285.0 331.3 275.0 325.0C265.0 318.7 252.5 312.8 240.0 312.0C227.5 311.2 213.3 314.5 200.0 320.0C186.7 325.5 172.5 334.2 160.0 345.0C147.5 355.8 130.8 378.3 125.0 385.0C134.2 380.0 162.5 360.8 180.0 355.0C197.5 349.2 215.0 348.3 230.0 350.0C245.0 351.7 259.2 356.7 270.0 365.0C280.8 373.3 288.3 387.5 295.0 400.0C301.7 412.5 306.5 426.7 310.0 440.0C313.5 453.3 315.0 473.3 316.0 480.0Z"/><path d="M360.0 362.0C364.2 358.7 373.3 346.8 385.0 342.0C396.7 337.2 414.2 331.7 430.0 333.0C445.8 334.3 461.7 341.3 480.0 350.0C498.3 358.7 530.0 379.2 540.0 385.0C530.0 382.8 498.3 374.5 480.0 372.0C461.7 369.5 445.0 367.8 430.0 370.0C415.0 372.2 400.8 377.5 390.0 385.0C379.2 392.5 370.0 405.0 365.0 415.0C360.0 425.0 360.8 440.0 360.0 445.0Z"/><path d="M316.0 507.0C312.5 503.8 303.5 492.2 295.0 488.0C286.5 483.8 275.8 481.2 265.0 482.0C254.2 482.8 240.3 488.0 230.0 493.0C219.7 498.0 207.5 508.8 203.0 512.0C209.2 510.0 228.8 502.0 240.0 500.0C251.2 498.0 260.8 497.5 270.0 500.0C279.2 502.5 287.3 508.0 295.0 515.0C302.7 522.0 312.5 537.5 316.0 542.0Z"/><path d="M888.0 308.0C883.3 301.7 869.7 279.3 860.0 270.0C850.3 260.7 840.0 255.7 830.0 252.0C820.0 248.3 813.3 245.0 800.0 248.0C786.7 251.0 768.7 256.3 750.0 270.0C731.3 283.7 698.3 320.0 688.0 330.0C697.5 324.2 726.3 301.7 745.0 295.0C763.7 288.3 783.3 287.5 800.0 290.0C816.7 292.5 833.3 300.0 845.0 310.0C856.7 320.0 862.8 334.7 870.0 350.0C877.2 365.3 885.0 393.3 888.0 402.0Z"/><path d="M934.0 302.0C937.5 298.7 945.7 287.0 955.0 282.0C964.3 277.0 975.8 271.5 990.0 272.0C1004.2 272.5 1024.2 279.0 1040.0 285.0C1055.8 291.0 1071.3 300.5 1085.0 308.0C1098.7 315.5 1115.8 326.3 1122.0 330.0C1111.7 327.5 1080.3 318.0 1060.0 315.0C1039.7 312.0 1016.7 310.3 1000.0 312.0C983.3 313.7 970.3 317.8 960.0 325.0C949.7 332.2 942.3 345.5 938.0 355.0C933.7 364.5 934.7 377.5 934.0 382.0Z"/><path d="M888.0 467.0C884.2 463.7 874.7 451.5 865.0 447.0C855.3 442.5 841.7 438.7 830.0 440.0C818.3 441.3 805.0 449.5 795.0 455.0C785.0 460.5 774.2 470.0 770.0 473.0C775.8 471.2 793.3 463.8 805.0 462.0C816.7 460.2 829.5 459.3 840.0 462.0C850.5 464.7 860.0 471.3 868.0 478.0C876.0 484.7 884.7 498.0 888.0 502.0Z"/></g>
<rect x="1120.20" y="169.00" width="12.20" height="178.00" fill="#000" stroke="none"/><rect x="1123.50" y="170.80" width="5.60" height="18.10" fill="#fff" stroke="none"/><rect x="1123.50" y="192.40" width="5.60" height="18.50" fill="#fff" stroke="none"/><rect x="1123.50" y="215.10" width="5.60" height="17.80" fill="#fff" stroke="none"/><rect x="1123.50" y="236.40" width="5.60" height="18.00" fill="#fff" stroke="none"/><rect x="1123.50" y="258.40" width="5.60" height="17.30" fill="#fff" stroke="none"/><rect x="1123.50" y="279.90" width="5.60" height="17.80" fill="#fff" stroke="none"/><rect x="1123.50" y="301.60" width="5.60" height="18.10" fill="#fff" stroke="none"/><rect x="1123.50" y="323.20" width="5.60" height="18.50" fill="#fff" stroke="none"/>
<g transform="translate(1040.00 10.00) scale(0.18109 0.18109)"><g stroke-width="4.5"><path d="M440.0 450.0C438.7 433.3 435.0 375.0 432.0 350.0C429.0 325.0 426.5 319.2 422.0 300.0C417.5 280.8 413.3 259.2 405.0 235.0C396.7 210.8 383.2 180.0 372.0 155.0C360.8 130.0 343.7 96.7 338.0 85.0C348.7 95.8 384.7 125.8 402.0 150.0C419.3 174.2 430.7 200.0 442.0 230.0C453.3 260.0 462.0 295.3 470.0 330.0C478.0 364.7 486.7 420.0 490.0 438.0Z"/><path d="M490.0 438.0C493.7 413.3 504.0 335.5 512.0 290.0C520.0 244.5 530.8 198.7 538.0 165.0C545.2 131.3 552.2 100.8 555.0 88.0C556.3 106.7 562.8 164.7 563.0 200.0C563.2 235.3 557.8 275.8 556.0 300.0C554.2 324.2 553.8 320.0 552.0 345.0C550.2 370.0 546.2 432.5 545.0 450.0Z"/><path d="M432.0 350.0C426.7 341.7 415.3 317.5 400.0 300.0C384.7 282.5 363.3 258.0 340.0 245.0C316.7 232.0 290.0 222.0 260.0 222.0C230.0 222.0 189.2 231.5 160.0 245.0C130.8 258.5 97.5 293.3 85.0 303.0C99.2 297.8 140.8 276.7 170.0 272.0C199.2 267.3 233.3 267.0 260.0 275.0C286.7 283.0 310.0 299.2 330.0 320.0C350.0 340.8 364.2 368.3 380.0 400.0C395.8 431.7 417.5 491.7 425.0 510.0Z"/><path d="M552.0 345.0C563.3 332.5 592.0 287.5 620.0 270.0C648.0 252.5 690.0 243.3 720.0 240.0C750.0 236.7 778.3 241.7 800.0 250.0C821.7 258.3 837.0 273.3 850.0 290.0C863.0 306.7 873.3 340.0 878.0 350.0C868.3 342.5 843.0 314.2 820.0 305.0C797.0 295.8 766.7 289.2 740.0 295.0C713.3 300.8 683.3 317.5 660.0 340.0C636.7 362.5 619.2 395.0 600.0 430.0C580.8 465.0 554.2 530.0 545.0 550.0Z"/><path d="M425.0 510.0C417.5 501.7 404.2 471.7 380.0 460.0C355.8 448.3 311.7 436.7 280.0 440.0C248.3 443.3 215.0 460.0 190.0 480.0C165.0 500.0 144.2 535.0 130.0 560.0C115.8 585.0 109.2 618.3 105.0 630.0C115.8 615.0 145.8 561.7 170.0 540.0C194.2 518.3 223.3 503.3 250.0 500.0C276.7 496.7 306.7 505.0 330.0 520.0C353.3 535.0 372.5 565.0 390.0 590.0C407.5 615.0 427.5 656.7 435.0 670.0Z"/><path d="M545.0 550.0C562.5 538.7 610.8 499.2 650.0 482.0C689.2 464.8 740.8 452.8 780.0 447.0C819.2 441.2 867.5 447.0 885.0 447.0C867.5 452.8 814.2 466.5 780.0 482.0C745.8 497.5 710.0 520.3 680.0 540.0C650.0 559.7 620.8 583.3 600.0 600.0C579.2 616.7 562.5 633.3 555.0 640.0Z"/><path d="M435.0 670.0C425.8 661.7 407.5 632.8 380.0 620.0C352.5 607.2 303.3 591.3 270.0 593.0C236.7 594.7 205.0 612.2 180.0 630.0C155.0 647.8 135.8 679.7 120.0 700.0C104.2 720.3 90.8 743.3 85.0 752.0C97.5 740.0 130.8 697.8 160.0 680.0C189.2 662.2 230.0 646.7 260.0 645.0C290.0 643.3 316.7 654.2 340.0 670.0C363.3 685.8 382.5 711.7 400.0 740.0C417.5 768.3 437.5 823.3 445.0 840.0Z"/><path d="M555.0 640.0C569.2 634.5 612.5 614.2 640.0 607.0C667.5 599.8 693.3 595.7 720.0 597.0C746.7 598.3 773.3 604.8 800.0 615.0C826.7 625.2 866.7 650.8 880.0 658.0C866.7 655.0 826.7 642.7 800.0 640.0C773.3 637.3 745.0 637.3 720.0 642.0C695.0 646.7 671.7 655.8 650.0 668.0C628.3 680.2 609.2 694.7 590.0 715.0C570.8 735.3 544.2 777.5 535.0 790.0Z"/><path d="M445.0 840.0C437.5 830.0 419.2 796.3 400.0 780.0C380.8 763.7 353.3 749.5 330.0 742.0C306.7 734.5 285.0 732.0 260.0 735.0C235.0 738.0 200.8 749.2 180.0 760.0C159.2 770.8 142.5 793.3 135.0 800.0C145.8 796.7 175.8 781.7 200.0 780.0C224.2 778.3 255.0 780.0 280.0 790.0C305.0 800.0 328.3 818.3 350.0 840.0C371.7 861.7 393.8 894.7 410.0 920.0C426.2 945.3 440.8 980.0 447.0 992.0Z"/><path d="M522.0 815.0C530.0 806.5 552.0 779.2 570.0 764.0C588.0 748.8 608.3 734.2 630.0 724.0C651.7 713.8 678.3 705.7 700.0 703.0C721.7 700.3 740.0 701.5 760.0 708.0C780.0 714.5 802.0 727.5 820.0 742.0C838.0 756.5 860.0 786.2 868.0 795.0C856.7 789.2 824.7 767.5 800.0 760.0C775.3 752.5 745.0 748.0 720.0 750.0C695.0 752.0 671.7 758.3 650.0 772.0C628.3 785.7 608.3 807.3 590.0 832.0C571.7 856.7 553.0 893.3 540.0 920.0C527.0 946.7 516.7 980.0 512.0 992.0Z"/><path d="M434.0 440.0L490.0 425.0L551.0 440.0L556.0 640.0L524.0 812.0L512.0 890.0L445.0 890.0L442.0 840.0L431.0 670.0L421.0 510.0Z"/><path d="M430.0 660.0L462.0 660.0L457.0 992.0L446.0 992.0Z"/><path d="M499.0 830.0L520.0 830.0L512.0 992.0L499.0 992.0Z"/></g></g>
<g transform="translate(1126.40 346.90) scale(0.08749 0.08749) translate(-700 -250)"><path d="M689 242L657 244L611 246L558 250L505 255L460 264L415 277L372 292L332 309L299 326L274 344L257 362L245 381L237 401L229 421L224 442L221 464L220 487L222 511L227 538L236 570L247 603L258 631L266 651L274 649L268 628L258 599L248 566L240 535L236 509L236 487L237 466L241 446L248 427L255 409L264 392L274 376L289 362L312 348L343 333L381 318L423 304L466 293L510 286L560 281L612 279L658 278L691 278Z"/><path d="M681 231L672 231L659 230L645 229L628 228L610 226L592 225L573 224L554 223L535 223L515 221L494 220L472 219L450 219L428 220L406 221L385 225L361 229L337 235L313 242L290 249L269 256L252 261L239 265L241 271L254 268L271 263L292 257L315 251L339 245L363 240L386 236L408 233L429 232L450 232L471 233L493 235L514 236L534 238L553 240L572 241L590 243L609 245L626 246L643 248L657 250L670 252L679 253Z"/><path d="M603 214L596 212L588 209L578 205L566 201L554 197L541 193L529 190L517 188L506 186L494 185L482 184L470 183L458 183L445 183L433 185L421 187L407 192L394 197L380 203L367 209L356 214L346 219L339 222L341 228L349 225L358 220L370 215L383 210L397 204L410 200L423 196L435 194L446 193L458 193L469 194L481 195L493 196L504 198L515 200L526 203L538 206L549 210L561 215L572 219L582 223L591 227L597 230Z"/><path d="M656 196L652 194L647 190L641 186L634 181L626 176L618 171L610 165L601 160L593 155L585 150L577 146L569 142L562 139L553 136L545 133L537 130L529 128L521 125L513 123L506 121L500 120L495 119L491 117L489 123L493 124L498 126L504 129L511 131L518 134L525 137L533 140L541 143L549 147L556 150L563 154L570 158L577 163L585 168L592 173L600 179L608 185L615 191L623 197L629 202L635 207L640 211L644 214Z"/><path d="M682 258L667 267L648 279L625 294L600 308L574 320L550 329L525 335L497 339L468 342L439 346L411 349L386 355L361 361L338 366L315 373L293 381L272 391L251 404L230 421L211 439L193 456L178 472L167 482L173 488L184 478L200 463L218 447L238 430L258 415L278 404L298 395L320 389L342 383L365 379L389 374L415 370L441 367L470 365L499 363L529 360L557 354L585 345L612 333L639 319L663 305L683 294L698 286Z"/><path d="M678 281L666 296L649 317L630 340L608 359L584 372L553 381L516 387L479 392L444 398L414 404L384 410L356 417L332 424L312 435L297 447L287 462L282 478L282 495L289 513L305 535L325 556L344 575L357 588L363 582L351 569L333 549L314 528L300 508L295 493L296 480L300 469L309 459L321 449L338 442L361 436L388 430L418 425L448 420L482 415L520 411L558 406L593 397L624 382L650 361L672 337L690 316L702 303Z"/><path d="M687 294L681 306L674 324L666 344L655 364L643 381L629 393L610 401L584 408L557 414L530 420L506 427L488 437L473 447L462 458L454 470L448 482L444 496L443 510L446 527L451 543L457 559L463 572L466 581L474 579L471 569L466 556L461 540L457 524L456 510L457 498L461 488L467 478L474 469L484 460L497 452L513 445L534 439L561 435L589 430L617 423L642 413L661 398L677 378L689 356L699 335L707 318L713 306Z"/><path d="M693 305L690 316L686 331L681 348L674 363L665 374L651 384L634 395L614 405L596 417L580 430L563 444L548 459L536 474L530 492L534 509L544 524L557 538L570 550L584 563L601 575L620 587L636 597L648 604L652 596L642 588L626 578L608 565L592 552L580 540L568 527L558 514L551 502L549 493L553 485L563 474L578 461L594 449L610 438L627 428L646 419L666 408L685 396L699 380L710 361L717 342L723 326L727 315Z"/><path d="M403 366L401 370L399 375L396 380L393 386L390 393L387 400L383 407L379 414L375 421L371 428L367 434L363 439L359 445L353 451L348 457L342 464L336 470L330 475L324 481L319 486L315 491L311 494L308 498L312 502L316 500L320 496L325 492L330 487L336 482L342 476L349 470L355 464L361 458L367 452L372 446L377 441L382 434L386 427L390 420L395 413L399 406L403 399L406 393L410 387L412 382L415 377L417 374Z"/><path d="M716 321L722 327L729 337L738 348L748 361L759 374L771 388L783 401L795 413L808 425L823 436L838 448L852 459L867 470L879 481L890 492L899 503L907 515L914 528L920 541L925 553L929 565L933 574L936 581L944 579L941 571L939 561L935 549L931 536L926 522L920 508L912 494L903 481L892 468L879 455L866 443L852 431L838 418L824 407L813 395L803 383L792 370L782 356L773 343L764 329L756 317L749 307L744 299Z"/><path d="M751 305L767 314L788 326L813 340L841 356L871 371L902 386L936 401L974 417L1012 433L1049 448L1081 463L1108 476L1132 487L1152 498L1169 508L1182 518L1191 530L1196 543L1196 562L1192 583L1185 603L1180 621L1176 634L1184 636L1188 624L1195 607L1202 586L1208 564L1210 542L1205 523L1194 507L1179 494L1161 482L1141 470L1118 457L1091 443L1058 427L1022 411L984 394L947 377L914 361L885 346L856 329L829 313L804 297L784 284L769 275Z"/><path d="M774 286L799 296L835 309L877 325L921 338L964 347L1010 352L1056 355L1101 358L1141 361L1175 365L1205 370L1232 375L1257 381L1281 390L1304 403L1326 419L1347 436L1368 450L1390 462L1412 471L1433 478L1451 484L1464 488L1466 482L1454 477L1436 470L1416 461L1395 451L1375 440L1356 424L1335 407L1313 389L1289 374L1263 363L1237 355L1209 349L1179 343L1144 337L1103 333L1058 329L1012 325L969 319L929 309L887 295L846 279L811 264L786 254Z"/><path d="M1144 370L1151 374L1159 379L1168 385L1178 392L1189 400L1201 408L1213 416L1225 425L1237 433L1249 442L1261 451L1271 459L1283 469L1295 479L1307 489L1319 500L1331 511L1343 522L1354 532L1364 542L1374 550L1381 557L1388 562L1392 558L1386 552L1379 544L1370 536L1360 526L1349 515L1338 504L1326 493L1314 481L1302 470L1290 460L1279 450L1269 441L1258 431L1246 422L1234 413L1222 404L1210 395L1199 386L1188 378L1178 371L1169 365L1161 359L1156 354Z"/><path d="M772 253L786 250L806 246L830 242L856 239L881 237L905 237L930 240L956 244L982 250L1009 256L1035 263L1061 270L1089 278L1117 287L1144 296L1170 305L1193 313L1214 320L1233 327L1251 333L1266 339L1279 344L1289 348L1291 342L1282 338L1269 333L1254 326L1236 319L1217 311L1196 304L1173 295L1147 285L1120 276L1093 266L1065 257L1039 250L1012 242L986 235L959 229L933 223L907 220L881 219L854 220L827 223L803 226L783 230L768 231Z"/><path d="M768 230L776 221L787 209L800 196L814 185L830 178L849 173L871 169L893 167L915 167L936 170L958 176L980 183L1001 192L1021 202L1038 215L1055 229L1072 245L1090 259L1111 270L1136 281L1161 290L1184 297L1199 303L1201 297L1186 292L1164 283L1139 274L1115 263L1095 251L1078 237L1062 222L1045 206L1027 192L1007 181L985 171L962 162L939 156L916 152L893 151L869 152L846 156L824 161L805 169L788 181L773 195L761 206L752 214Z"/><ellipse cx="703" cy="258" rx="66" ry="52"/><path d="M645.0 200.0L760.0 200.0L768.0 260.0L735.0 318.0L700.0 335.0L665.0 310.0L640.0 270.0Z"/></g>
<rect x="1257.10" y="158.00" width="12.00" height="189.00" fill="#000" stroke="none"/><rect x="1260.30" y="170.80" width="5.60" height="18.10" fill="#fff" stroke="none"/><rect x="1260.30" y="192.40" width="5.60" height="18.50" fill="#fff" stroke="none"/><rect x="1260.30" y="215.10" width="5.60" height="17.80" fill="#fff" stroke="none"/><rect x="1260.30" y="236.40" width="5.60" height="18.00" fill="#fff" stroke="none"/><rect x="1260.30" y="258.40" width="5.60" height="17.30" fill="#fff" stroke="none"/><rect x="1260.30" y="279.90" width="5.60" height="17.80" fill="#fff" stroke="none"/><rect x="1260.30" y="301.60" width="5.60" height="18.10" fill="#fff" stroke="none"/><rect x="1260.30" y="323.20" width="5.60" height="18.50" fill="#fff" stroke="none"/>
<g transform="translate(1263.1 161.1) scale(0.19920 0.18979) translate(-478.5 -885)"><g stroke-width="4.5"><path d="M440.0 450.0C438.7 433.3 435.0 375.0 432.0 350.0C429.0 325.0 426.5 319.2 422.0 300.0C417.5 280.8 413.3 259.2 405.0 235.0C396.7 210.8 383.2 180.0 372.0 155.0C360.8 130.0 343.7 96.7 338.0 85.0C348.7 95.8 384.7 125.8 402.0 150.0C419.3 174.2 430.7 200.0 442.0 230.0C453.3 260.0 462.0 295.3 470.0 330.0C478.0 364.7 486.7 420.0 490.0 438.0Z"/><path d="M490.0 438.0C493.7 413.3 504.0 335.5 512.0 290.0C520.0 244.5 530.8 198.7 538.0 165.0C545.2 131.3 552.2 100.8 555.0 88.0C556.3 106.7 562.8 164.7 563.0 200.0C563.2 235.3 557.8 275.8 556.0 300.0C554.2 324.2 553.8 320.0 552.0 345.0C550.2 370.0 546.2 432.5 545.0 450.0Z"/><path d="M432.0 350.0C426.7 341.7 415.3 317.5 400.0 300.0C384.7 282.5 363.3 258.0 340.0 245.0C316.7 232.0 290.0 222.0 260.0 222.0C230.0 222.0 189.2 231.5 160.0 245.0C130.8 258.5 97.5 293.3 85.0 303.0C99.2 297.8 140.8 276.7 170.0 272.0C199.2 267.3 233.3 267.0 260.0 275.0C286.7 283.0 310.0 299.2 330.0 320.0C350.0 340.8 364.2 368.3 380.0 400.0C395.8 431.7 417.5 491.7 425.0 510.0Z"/><path d="M552.0 345.0C563.3 332.5 592.0 287.5 620.0 270.0C648.0 252.5 690.0 243.3 720.0 240.0C750.0 236.7 778.3 241.7 800.0 250.0C821.7 258.3 837.0 273.3 850.0 290.0C863.0 306.7 873.3 340.0 878.0 350.0C868.3 342.5 843.0 314.2 820.0 305.0C797.0 295.8 766.7 289.2 740.0 295.0C713.3 300.8 683.3 317.5 660.0 340.0C636.7 362.5 619.2 395.0 600.0 430.0C580.8 465.0 554.2 530.0 545.0 550.0Z"/><path d="M425.0 510.0C417.5 501.7 404.2 471.7 380.0 460.0C355.8 448.3 311.7 436.7 280.0 440.0C248.3 443.3 215.0 460.0 190.0 480.0C165.0 500.0 144.2 535.0 130.0 560.0C115.8 585.0 109.2 618.3 105.0 630.0C115.8 615.0 145.8 561.7 170.0 540.0C194.2 518.3 223.3 503.3 250.0 500.0C276.7 496.7 306.7 505.0 330.0 520.0C353.3 535.0 372.5 565.0 390.0 590.0C407.5 615.0 427.5 656.7 435.0 670.0Z"/><path d="M545.0 550.0C562.5 538.7 610.8 499.2 650.0 482.0C689.2 464.8 740.8 452.8 780.0 447.0C819.2 441.2 867.5 447.0 885.0 447.0C867.5 452.8 814.2 466.5 780.0 482.0C745.8 497.5 710.0 520.3 680.0 540.0C650.0 559.7 620.8 583.3 600.0 600.0C579.2 616.7 562.5 633.3 555.0 640.0Z"/><path d="M435.0 670.0C425.8 661.7 407.5 632.8 380.0 620.0C352.5 607.2 303.3 591.3 270.0 593.0C236.7 594.7 205.0 612.2 180.0 630.0C155.0 647.8 135.8 679.7 120.0 700.0C104.2 720.3 90.8 743.3 85.0 752.0C97.5 740.0 130.8 697.8 160.0 680.0C189.2 662.2 230.0 646.7 260.0 645.0C290.0 643.3 316.7 654.2 340.0 670.0C363.3 685.8 382.5 711.7 400.0 740.0C417.5 768.3 437.5 823.3 445.0 840.0Z"/><path d="M555.0 640.0C569.2 634.5 612.5 614.2 640.0 607.0C667.5 599.8 693.3 595.7 720.0 597.0C746.7 598.3 773.3 604.8 800.0 615.0C826.7 625.2 866.7 650.8 880.0 658.0C866.7 655.0 826.7 642.7 800.0 640.0C773.3 637.3 745.0 637.3 720.0 642.0C695.0 646.7 671.7 655.8 650.0 668.0C628.3 680.2 609.2 694.7 590.0 715.0C570.8 735.3 544.2 777.5 535.0 790.0Z"/><path d="M445.0 840.0C437.5 830.0 419.2 796.3 400.0 780.0C380.8 763.7 353.3 749.5 330.0 742.0C306.7 734.5 285.0 732.0 260.0 735.0C235.0 738.0 200.8 749.2 180.0 760.0C159.2 770.8 142.5 793.3 135.0 800.0C145.8 796.7 175.8 781.7 200.0 780.0C224.2 778.3 255.0 780.0 280.0 790.0C305.0 800.0 328.3 818.3 350.0 840.0C371.7 861.7 393.8 894.7 410.0 920.0C426.2 945.3 440.8 980.0 447.0 992.0Z"/><path d="M522.0 815.0C530.0 806.5 552.0 779.2 570.0 764.0C588.0 748.8 608.3 734.2 630.0 724.0C651.7 713.8 678.3 705.7 700.0 703.0C721.7 700.3 740.0 701.5 760.0 708.0C780.0 714.5 802.0 727.5 820.0 742.0C838.0 756.5 860.0 786.2 868.0 795.0C856.7 789.2 824.7 767.5 800.0 760.0C775.3 752.5 745.0 748.0 720.0 750.0C695.0 752.0 671.7 758.3 650.0 772.0C628.3 785.7 608.3 807.3 590.0 832.0C571.7 856.7 553.0 893.3 540.0 920.0C527.0 946.7 516.7 980.0 512.0 992.0Z"/><path d="M434.0 440.0L490.0 425.0L551.0 440.0L556.0 640.0L524.0 812.0L512.0 890.0L445.0 890.0L442.0 840.0L431.0 670.0L421.0 510.0Z"/><path d="M430.0 660.0L462.0 660.0L457.0 992.0L446.0 992.0Z"/><path d="M499.0 830.0L520.0 830.0L512.0 992.0L499.0 992.0Z"/></g></g>
<g transform="translate(1263.10 346.90) scale(0.08749 0.08749) translate(-700 -250)"><path d="M689 242L657 244L611 246L558 250L505 255L460 264L415 277L372 292L332 309L299 326L274 344L257 362L245 381L237 401L229 421L224 442L221 464L220 487L222 511L227 538L236 570L247 603L258 631L266 651L274 649L268 628L258 599L248 566L240 535L236 509L236 487L237 466L241 446L248 427L255 409L264 392L274 376L289 362L312 348L343 333L381 318L423 304L466 293L510 286L560 281L612 279L658 278L691 278Z"/><path d="M681 231L672 231L659 230L645 229L628 228L610 226L592 225L573 224L554 223L535 223L515 221L494 220L472 219L450 219L428 220L406 221L385 225L361 229L337 235L313 242L290 249L269 256L252 261L239 265L241 271L254 268L271 263L292 257L315 251L339 245L363 240L386 236L408 233L429 232L450 232L471 233L493 235L514 236L534 238L553 240L572 241L590 243L609 245L626 246L643 248L657 250L670 252L679 253Z"/><path d="M603 214L596 212L588 209L578 205L566 201L554 197L541 193L529 190L517 188L506 186L494 185L482 184L470 183L458 183L445 183L433 185L421 187L407 192L394 197L380 203L367 209L356 214L346 219L339 222L341 228L349 225L358 220L370 215L383 210L397 204L410 200L423 196L435 194L446 193L458 193L469 194L481 195L493 196L504 198L515 200L526 203L538 206L549 210L561 215L572 219L582 223L591 227L597 230Z"/><path d="M656 196L652 194L647 190L641 186L634 181L626 176L618 171L610 165L601 160L593 155L585 150L577 146L569 142L562 139L553 136L545 133L537 130L529 128L521 125L513 123L506 121L500 120L495 119L491 117L489 123L493 124L498 126L504 129L511 131L518 134L525 137L533 140L541 143L549 147L556 150L563 154L570 158L577 163L585 168L592 173L600 179L608 185L615 191L623 197L629 202L635 207L640 211L644 214Z"/><path d="M682 258L667 267L648 279L625 294L600 308L574 320L550 329L525 335L497 339L468 342L439 346L411 349L386 355L361 361L338 366L315 373L293 381L272 391L251 404L230 421L211 439L193 456L178 472L167 482L173 488L184 478L200 463L218 447L238 430L258 415L278 404L298 395L320 389L342 383L365 379L389 374L415 370L441 367L470 365L499 363L529 360L557 354L585 345L612 333L639 319L663 305L683 294L698 286Z"/><path d="M678 281L666 296L649 317L630 340L608 359L584 372L553 381L516 387L479 392L444 398L414 404L384 410L356 417L332 424L312 435L297 447L287 462L282 478L282 495L289 513L305 535L325 556L344 575L357 588L363 582L351 569L333 549L314 528L300 508L295 493L296 480L300 469L309 459L321 449L338 442L361 436L388 430L418 425L448 420L482 415L520 411L558 406L593 397L624 382L650 361L672 337L690 316L702 303Z"/><path d="M687 294L681 306L674 324L666 344L655 364L643 381L629 393L610 401L584 408L557 414L530 420L506 427L488 437L473 447L462 458L454 470L448 482L444 496L443 510L446 527L451 543L457 559L463 572L466 581L474 579L471 569L466 556L461 540L457 524L456 510L457 498L461 488L467 478L474 469L484 460L497 452L513 445L534 439L561 435L589 430L617 423L642 413L661 398L677 378L689 356L699 335L707 318L713 306Z"/><path d="M693 305L690 316L686 331L681 348L674 363L665 374L651 384L634 395L614 405L596 417L580 430L563 444L548 459L536 474L530 492L534 509L544 524L557 538L570 550L584 563L601 575L620 587L636 597L648 604L652 596L642 588L626 578L608 565L592 552L580 540L568 527L558 514L551 502L549 493L553 485L563 474L578 461L594 449L610 438L627 428L646 419L666 408L685 396L699 380L710 361L717 342L723 326L727 315Z"/><path d="M403 366L401 370L399 375L396 380L393 386L390 393L387 400L383 407L379 414L375 421L371 428L367 434L363 439L359 445L353 451L348 457L342 464L336 470L330 475L324 481L319 486L315 491L311 494L308 498L312 502L316 500L320 496L325 492L330 487L336 482L342 476L349 470L355 464L361 458L367 452L372 446L377 441L382 434L386 427L390 420L395 413L399 406L403 399L406 393L410 387L412 382L415 377L417 374Z"/><path d="M716 321L722 327L729 337L738 348L748 361L759 374L771 388L783 401L795 413L808 425L823 436L838 448L852 459L867 470L879 481L890 492L899 503L907 515L914 528L920 541L925 553L929 565L933 574L936 581L944 579L941 571L939 561L935 549L931 536L926 522L920 508L912 494L903 481L892 468L879 455L866 443L852 431L838 418L824 407L813 395L803 383L792 370L782 356L773 343L764 329L756 317L749 307L744 299Z"/><path d="M751 305L767 314L788 326L813 340L841 356L871 371L902 386L936 401L974 417L1012 433L1049 448L1081 463L1108 476L1132 487L1152 498L1169 508L1182 518L1191 530L1196 543L1196 562L1192 583L1185 603L1180 621L1176 634L1184 636L1188 624L1195 607L1202 586L1208 564L1210 542L1205 523L1194 507L1179 494L1161 482L1141 470L1118 457L1091 443L1058 427L1022 411L984 394L947 377L914 361L885 346L856 329L829 313L804 297L784 284L769 275Z"/><path d="M774 286L799 296L835 309L877 325L921 338L964 347L1010 352L1056 355L1101 358L1141 361L1175 365L1205 370L1232 375L1257 381L1281 390L1304 403L1326 419L1347 436L1368 450L1390 462L1412 471L1433 478L1451 484L1464 488L1466 482L1454 477L1436 470L1416 461L1395 451L1375 440L1356 424L1335 407L1313 389L1289 374L1263 363L1237 355L1209 349L1179 343L1144 337L1103 333L1058 329L1012 325L969 319L929 309L887 295L846 279L811 264L786 254Z"/><path d="M1144 370L1151 374L1159 379L1168 385L1178 392L1189 400L1201 408L1213 416L1225 425L1237 433L1249 442L1261 451L1271 459L1283 469L1295 479L1307 489L1319 500L1331 511L1343 522L1354 532L1364 542L1374 550L1381 557L1388 562L1392 558L1386 552L1379 544L1370 536L1360 526L1349 515L1338 504L1326 493L1314 481L1302 470L1290 460L1279 450L1269 441L1258 431L1246 422L1234 413L1222 404L1210 395L1199 386L1188 378L1178 371L1169 365L1161 359L1156 354Z"/><path d="M772 253L786 250L806 246L830 242L856 239L881 237L905 237L930 240L956 244L982 250L1009 256L1035 263L1061 270L1089 278L1117 287L1144 296L1170 305L1193 313L1214 320L1233 327L1251 333L1266 339L1279 344L1289 348L1291 342L1282 338L1269 333L1254 326L1236 319L1217 311L1196 304L1173 295L1147 285L1120 276L1093 266L1065 257L1039 250L1012 242L986 235L959 229L933 223L907 220L881 219L854 220L827 223L803 226L783 230L768 231Z"/><path d="M768 230L776 221L787 209L800 196L814 185L830 178L849 173L871 169L893 167L915 167L936 170L958 176L980 183L1001 192L1021 202L1038 215L1055 229L1072 245L1090 259L1111 270L1136 281L1161 290L1184 297L1199 303L1201 297L1186 292L1164 283L1139 274L1115 263L1095 251L1078 237L1062 222L1045 206L1027 192L1007 181L985 171L962 162L939 156L916 152L893 151L869 152L846 156L824 161L805 169L788 181L773 195L761 206L752 214Z"/><ellipse cx="703" cy="258" rx="66" ry="52"/><path d="M645.0 200.0L760.0 200.0L768.0 260.0L735.0 318.0L700.0 335.0L665.0 310.0L640.0 270.0Z"/></g>
<g transform="translate(1060.00 160.00) scale(0.23143 0.23143)"><path d="M264.0 302.0C259.2 297.0 249.0 279.5 235.0 272.0C221.0 264.5 199.2 255.7 180.0 257.0C160.8 258.3 139.2 269.2 120.0 280.0C100.8 290.8 74.2 315.0 65.0 322.0C75.8 318.3 109.2 303.7 130.0 300.0C150.8 296.3 172.5 295.0 190.0 300.0C207.5 305.0 224.2 319.2 235.0 330.0C245.8 340.8 250.2 354.7 255.0 365.0C259.8 375.3 262.5 387.5 264.0 392.0Z"/><path d="M311.0 292.0C316.7 286.3 326.8 266.3 345.0 258.0C363.2 249.7 395.8 240.0 420.0 242.0C444.2 244.0 466.7 257.0 490.0 270.0C513.3 283.0 548.3 311.7 560.0 320.0C548.3 315.8 513.3 300.8 490.0 295.0C466.7 289.2 441.7 282.5 420.0 285.0C398.3 287.5 375.8 299.2 360.0 310.0C344.2 320.8 333.2 335.5 325.0 350.0C316.8 364.5 313.3 389.2 311.0 397.0Z"/><path d="M311.0 232.0C315.8 225.0 324.8 203.2 340.0 190.0C355.2 176.8 391.7 159.2 402.0 153.0C394.2 162.5 367.0 192.2 355.0 210.0C343.0 227.8 335.8 246.3 330.0 260.0C324.2 273.7 321.7 286.7 320.0 292.0Z"/><path d="M311.0 522.0C315.0 518.8 325.2 507.2 335.0 503.0C344.8 498.8 358.3 495.8 370.0 497.0C381.7 498.2 394.7 504.5 405.0 510.0C415.3 515.5 427.5 526.7 432.0 530.0C425.8 528.3 407.0 522.0 395.0 520.0C383.0 518.0 370.8 515.5 360.0 518.0C349.2 520.5 338.2 528.5 330.0 535.0C321.8 541.5 314.2 553.3 311.0 557.0Z"/><path d="M855.0 272.0C849.2 266.7 835.8 247.3 820.0 240.0C804.2 232.7 780.0 226.0 760.0 228.0C740.0 230.0 720.0 240.3 700.0 252.0C680.0 263.7 650.0 290.3 640.0 298.0C651.7 294.2 688.3 279.3 710.0 275.0C731.7 270.7 751.7 267.8 770.0 272.0C788.3 276.2 807.5 288.7 820.0 300.0C832.5 311.3 839.2 327.2 845.0 340.0C850.8 352.8 853.3 370.8 855.0 377.0Z"/><path d="M901.0 262.0C907.5 256.3 921.8 236.2 940.0 228.0C958.2 219.8 985.0 210.2 1010.0 213.0C1035.0 215.8 1064.2 231.3 1090.0 245.0C1115.8 258.7 1152.5 286.7 1165.0 295.0C1152.5 290.8 1115.8 276.2 1090.0 270.0C1064.2 263.8 1033.3 256.3 1010.0 258.0C986.7 259.7 965.8 268.8 950.0 280.0C934.2 291.2 923.2 308.8 915.0 325.0C906.8 341.2 903.3 368.3 901.0 377.0Z"/><path d="M901.0 202.0C906.7 194.2 919.0 168.7 935.0 155.0C951.0 141.3 986.7 125.8 997.0 120.0C989.2 129.2 962.5 157.5 950.0 175.0C937.5 192.5 928.7 210.8 922.0 225.0C915.3 239.2 912.0 254.2 910.0 260.0Z"/><path d="M901.0 507.0C905.0 503.8 915.2 492.2 925.0 488.0C934.8 483.8 947.5 480.5 960.0 482.0C972.5 483.5 988.7 491.5 1000.0 497.0C1011.3 502.5 1023.3 512.0 1028.0 515.0C1021.7 513.3 1002.2 507.0 990.0 505.0C977.8 503.0 965.8 500.8 955.0 503.0C944.2 505.2 934.0 511.5 925.0 518.0C916.0 524.5 905.0 538.0 901.0 542.0Z"/></g>
</g>
</svg>
</body></html>
